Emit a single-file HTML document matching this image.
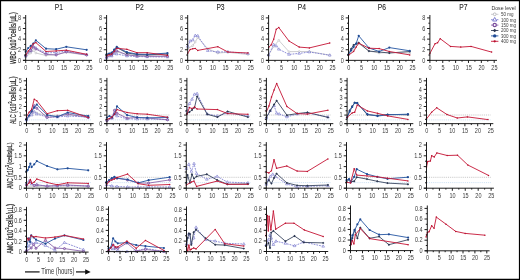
<!DOCTYPE html>
<html><head><meta charset="utf-8"><title>Figure</title>
<style>
html,body{margin:0;padding:0;background:#fff;width:520px;height:280px;overflow:hidden;}
svg{display:block;font-family:"Liberation Sans",sans-serif;will-change:transform;}
</style></head><body>
<svg width="520" height="280" viewBox="0 0 520 280" font-family="Liberation Sans, sans-serif"><rect x="0" y="0" width="520" height="280" fill="#fff"/>
<path d="M25.7 57 L30.78 53 L33.32 50.5 L35.86 53 L46.02 55.5 L56.18 54.5 L66.34 52.5 L86.66 55" stroke="#c4c4c8" stroke-width="0.85" fill="none" stroke-linejoin="round"/>
<circle cx="25.7" cy="57" r="0.9" fill="#fff" stroke="#b8b8bc" stroke-width="0.6"/><circle cx="30.78" cy="53" r="0.9" fill="#fff" stroke="#b8b8bc" stroke-width="0.6"/><circle cx="33.32" cy="50.5" r="0.9" fill="#fff" stroke="#b8b8bc" stroke-width="0.6"/><circle cx="35.86" cy="53" r="0.9" fill="#fff" stroke="#b8b8bc" stroke-width="0.6"/><circle cx="46.02" cy="55.5" r="0.9" fill="#fff" stroke="#b8b8bc" stroke-width="0.6"/><circle cx="56.18" cy="54.5" r="0.9" fill="#fff" stroke="#b8b8bc" stroke-width="0.6"/><circle cx="66.34" cy="52.5" r="0.9" fill="#fff" stroke="#b8b8bc" stroke-width="0.6"/><circle cx="86.66" cy="55" r="0.9" fill="#fff" stroke="#b8b8bc" stroke-width="0.6"/>
<path d="M25.7 56 L30.78 51 L33.32 46.5 L35.86 48 L46.02 53 L56.18 52.5 L66.34 51 L86.66 54.5" stroke="#7a7ad0" stroke-width="0.85" fill="none" stroke-linejoin="round" stroke-dasharray="1.8,1"/>
<path d="M25.7 54.55l1.35 2.3h-2.7z" fill="#fff" stroke="#6a6ac8" stroke-width="0.55"/><path d="M30.78 49.55l1.35 2.3h-2.7z" fill="#fff" stroke="#6a6ac8" stroke-width="0.55"/><path d="M33.32 45.05l1.35 2.3h-2.7z" fill="#fff" stroke="#6a6ac8" stroke-width="0.55"/><path d="M35.86 46.55l1.35 2.3h-2.7z" fill="#fff" stroke="#6a6ac8" stroke-width="0.55"/><path d="M46.02 51.55l1.35 2.3h-2.7z" fill="#fff" stroke="#6a6ac8" stroke-width="0.55"/><path d="M56.18 51.05l1.35 2.3h-2.7z" fill="#fff" stroke="#6a6ac8" stroke-width="0.55"/><path d="M66.34 49.55l1.35 2.3h-2.7z" fill="#fff" stroke="#6a6ac8" stroke-width="0.55"/><path d="M86.66 53.05l1.35 2.3h-2.7z" fill="#fff" stroke="#6a6ac8" stroke-width="0.55"/>
<path d="M25.7 55.5 L30.78 50.5 L33.32 47 L35.86 49 L46.02 54.3 L56.18 55 L66.34 51.8 L86.66 55" stroke="#8c68ac" stroke-width="0.9" fill="none" stroke-linejoin="round"/>
<circle cx="25.7" cy="55.5" r="1.05" fill="#c9b4dc" stroke="#7a4e9c" stroke-width="0.8"/><circle cx="30.78" cy="50.5" r="1.05" fill="#c9b4dc" stroke="#7a4e9c" stroke-width="0.8"/><circle cx="33.32" cy="47" r="1.05" fill="#c9b4dc" stroke="#7a4e9c" stroke-width="0.8"/><circle cx="35.86" cy="49" r="1.05" fill="#c9b4dc" stroke="#7a4e9c" stroke-width="0.8"/><circle cx="46.02" cy="54.3" r="1.05" fill="#c9b4dc" stroke="#7a4e9c" stroke-width="0.8"/><circle cx="56.18" cy="55" r="1.05" fill="#c9b4dc" stroke="#7a4e9c" stroke-width="0.8"/><circle cx="66.34" cy="51.8" r="1.05" fill="#c9b4dc" stroke="#7a4e9c" stroke-width="0.8"/><circle cx="86.66" cy="55" r="1.05" fill="#c9b4dc" stroke="#7a4e9c" stroke-width="0.8"/>
<path d="M25.7 51.8 L28.24 48 L30.78 45.9 L33.32 43.6 L35.86 40.3 L46.02 48.7 L56.18 49.2 L66.34 46.8 L86.66 49.8" stroke="#2f5ea6" stroke-width="0.95" fill="none" stroke-linejoin="round"/>
<circle cx="25.7" cy="51.8" r="1.1" fill="#1f4a94"/><circle cx="28.24" cy="48" r="1.1" fill="#1f4a94"/><circle cx="30.78" cy="45.9" r="1.1" fill="#1f4a94"/><circle cx="33.32" cy="43.6" r="1.1" fill="#1f4a94"/><circle cx="35.86" cy="40.3" r="1.1" fill="#1f4a94"/><circle cx="46.02" cy="48.7" r="1.1" fill="#1f4a94"/><circle cx="56.18" cy="49.2" r="1.1" fill="#1f4a94"/><circle cx="66.34" cy="46.8" r="1.1" fill="#1f4a94"/><circle cx="86.66" cy="49.8" r="1.1" fill="#1f4a94"/>
<path d="M25.7 55 L28.24 51 L30.78 48 L33.32 43.8 L35.86 42.6 L46.02 51.5 L56.18 50.9 L66.34 50.2 L86.66 54.3" stroke="#c8213f" stroke-width="0.95" fill="none" stroke-linejoin="round"/>
<circle cx="25.7" cy="55" r="0.75" fill="#b8102e"/><circle cx="28.24" cy="51" r="0.75" fill="#b8102e"/><circle cx="30.78" cy="48" r="0.75" fill="#b8102e"/><circle cx="33.32" cy="43.8" r="0.75" fill="#b8102e"/><circle cx="35.86" cy="42.6" r="0.75" fill="#b8102e"/><circle cx="46.02" cy="51.5" r="0.75" fill="#b8102e"/><circle cx="56.18" cy="50.9" r="0.75" fill="#b8102e"/><circle cx="66.34" cy="50.2" r="0.75" fill="#b8102e"/><circle cx="86.66" cy="54.3" r="0.75" fill="#b8102e"/>
<path d="M25.7 15V60.85M23.1 60.35H92M22.9 60.35H25.7M22.9 49.74H25.7M22.9 39.12H25.7M22.9 28.51H25.7M22.9 17.9H25.7M24.2 55.04H25.7M24.2 44.43H25.7M24.2 33.82H25.7M24.2 23.21H25.7M25.7 60.35V62.95M38.4 60.35V62.95M51.1 60.35V62.95M63.8 60.35V62.95M76.5 60.35V62.95M89.2 60.35V62.95M32.05 60.35V61.75M44.75 60.35V61.75M57.45 60.35V61.75M70.15 60.35V61.75M82.85 60.35V61.75" stroke="#111" stroke-width="0.95" fill="none"/>
<text transform="translate(21.1,62.55) scale(0.88,1)" font-size="6.3" text-anchor="end" fill="#3a3a3a">0</text>
<text transform="translate(21.1,51.94) scale(0.88,1)" font-size="6.3" text-anchor="end" fill="#3a3a3a">2</text>
<text transform="translate(21.1,41.33) scale(0.88,1)" font-size="6.3" text-anchor="end" fill="#3a3a3a">4</text>
<text transform="translate(21.1,30.71) scale(0.88,1)" font-size="6.3" text-anchor="end" fill="#3a3a3a">6</text>
<text transform="translate(21.1,20.1) scale(0.88,1)" font-size="6.3" text-anchor="end" fill="#3a3a3a">8</text>
<text transform="translate(25.9,69.85) scale(0.86,1)" font-size="6.4" text-anchor="middle" fill="#3a3a3a">0</text>
<text transform="translate(38.6,69.85) scale(0.86,1)" font-size="6.4" text-anchor="middle" fill="#3a3a3a">5</text>
<text transform="translate(51.3,69.85) scale(0.86,1)" font-size="6.4" text-anchor="middle" fill="#3a3a3a">10</text>
<text transform="translate(64,69.85) scale(0.86,1)" font-size="6.4" text-anchor="middle" fill="#3a3a3a">15</text>
<text transform="translate(76.7,69.85) scale(0.86,1)" font-size="6.4" text-anchor="middle" fill="#3a3a3a">20</text>
<text transform="translate(89.4,69.85) scale(0.86,1)" font-size="6.4" text-anchor="middle" fill="#3a3a3a">25</text>
<path d="M106.6 57.5 L111.67 55 L116.74 52 L126.89 54.6 L137.03 55.5 L147.18 55.5 L167.46 56" stroke="#c4c4c8" stroke-width="0.85" fill="none" stroke-linejoin="round"/>
<circle cx="106.6" cy="57.5" r="0.9" fill="#fff" stroke="#b8b8bc" stroke-width="0.6"/><circle cx="111.67" cy="55" r="0.9" fill="#fff" stroke="#b8b8bc" stroke-width="0.6"/><circle cx="116.74" cy="52" r="0.9" fill="#fff" stroke="#b8b8bc" stroke-width="0.6"/><circle cx="126.89" cy="54.6" r="0.9" fill="#fff" stroke="#b8b8bc" stroke-width="0.6"/><circle cx="137.03" cy="55.5" r="0.9" fill="#fff" stroke="#b8b8bc" stroke-width="0.6"/><circle cx="147.18" cy="55.5" r="0.9" fill="#fff" stroke="#b8b8bc" stroke-width="0.6"/><circle cx="167.46" cy="56" r="0.9" fill="#fff" stroke="#b8b8bc" stroke-width="0.6"/>
<path d="M106.6 58 L111.67 56 L114.21 53.5 L116.74 54 L126.89 56 L137.03 56.5 L147.18 56.8 L167.46 57" stroke="#7a7ad0" stroke-width="0.85" fill="none" stroke-linejoin="round" stroke-dasharray="1.8,1"/>
<path d="M106.6 56.55l1.35 2.3h-2.7z" fill="#fff" stroke="#6a6ac8" stroke-width="0.55"/><path d="M111.67 54.55l1.35 2.3h-2.7z" fill="#fff" stroke="#6a6ac8" stroke-width="0.55"/><path d="M114.21 52.05l1.35 2.3h-2.7z" fill="#fff" stroke="#6a6ac8" stroke-width="0.55"/><path d="M116.74 52.55l1.35 2.3h-2.7z" fill="#fff" stroke="#6a6ac8" stroke-width="0.55"/><path d="M126.89 54.55l1.35 2.3h-2.7z" fill="#fff" stroke="#6a6ac8" stroke-width="0.55"/><path d="M137.03 55.05l1.35 2.3h-2.7z" fill="#fff" stroke="#6a6ac8" stroke-width="0.55"/><path d="M147.18 55.35l1.35 2.3h-2.7z" fill="#fff" stroke="#6a6ac8" stroke-width="0.55"/><path d="M167.46 55.55l1.35 2.3h-2.7z" fill="#fff" stroke="#6a6ac8" stroke-width="0.55"/>
<path d="M106.6 57.2 L111.67 55 L114.21 52 L116.74 50.8 L126.89 54.8 L137.03 56 L147.18 56.3 L167.46 56.3" stroke="#8c68ac" stroke-width="0.9" fill="none" stroke-linejoin="round"/>
<circle cx="106.6" cy="57.2" r="1.05" fill="#c9b4dc" stroke="#7a4e9c" stroke-width="0.8"/><circle cx="111.67" cy="55" r="1.05" fill="#c9b4dc" stroke="#7a4e9c" stroke-width="0.8"/><circle cx="114.21" cy="52" r="1.05" fill="#c9b4dc" stroke="#7a4e9c" stroke-width="0.8"/><circle cx="116.74" cy="50.8" r="1.05" fill="#c9b4dc" stroke="#7a4e9c" stroke-width="0.8"/><circle cx="126.89" cy="54.8" r="1.05" fill="#c9b4dc" stroke="#7a4e9c" stroke-width="0.8"/><circle cx="137.03" cy="56" r="1.05" fill="#c9b4dc" stroke="#7a4e9c" stroke-width="0.8"/><circle cx="147.18" cy="56.3" r="1.05" fill="#c9b4dc" stroke="#7a4e9c" stroke-width="0.8"/><circle cx="167.46" cy="56.3" r="1.05" fill="#c9b4dc" stroke="#7a4e9c" stroke-width="0.8"/>
<path d="M106.6 55 L111.67 53.5 L114.21 50 L116.74 47.5 L126.89 53 L137.03 54.5 L147.18 54.8 L167.46 54" stroke="#3a4660" stroke-width="0.9" fill="none" stroke-linejoin="round"/>
<path d="M106.6 53.8l1.2 1.2l-1.2 1.2l-1.2 -1.2z" fill="#2a3550"/><path d="M111.67 52.3l1.2 1.2l-1.2 1.2l-1.2 -1.2z" fill="#2a3550"/><path d="M114.21 48.8l1.2 1.2l-1.2 1.2l-1.2 -1.2z" fill="#2a3550"/><path d="M116.74 46.3l1.2 1.2l-1.2 1.2l-1.2 -1.2z" fill="#2a3550"/><path d="M126.89 51.8l1.2 1.2l-1.2 1.2l-1.2 -1.2z" fill="#2a3550"/><path d="M137.03 53.3l1.2 1.2l-1.2 1.2l-1.2 -1.2z" fill="#2a3550"/><path d="M147.18 53.6l1.2 1.2l-1.2 1.2l-1.2 -1.2z" fill="#2a3550"/><path d="M167.46 52.8l1.2 1.2l-1.2 1.2l-1.2 -1.2z" fill="#2a3550"/>
<path d="M106.6 54.3 L109.14 53.5 L111.67 52.7 L114.21 49.7 L116.74 46.8 L126.89 52.2 L137.03 54.1 L147.18 54.4 L167.46 53.1" stroke="#2f5ea6" stroke-width="0.95" fill="none" stroke-linejoin="round"/>
<circle cx="106.6" cy="54.3" r="1.1" fill="#1f4a94"/><circle cx="109.14" cy="53.5" r="1.1" fill="#1f4a94"/><circle cx="111.67" cy="52.7" r="1.1" fill="#1f4a94"/><circle cx="114.21" cy="49.7" r="1.1" fill="#1f4a94"/><circle cx="116.74" cy="46.8" r="1.1" fill="#1f4a94"/><circle cx="126.89" cy="52.2" r="1.1" fill="#1f4a94"/><circle cx="137.03" cy="54.1" r="1.1" fill="#1f4a94"/><circle cx="147.18" cy="54.4" r="1.1" fill="#1f4a94"/><circle cx="167.46" cy="53.1" r="1.1" fill="#1f4a94"/>
<path d="M106.6 55.7 L109.14 54.8 L111.67 53.9 L114.21 51.2 L116.74 48.3 L126.89 49.3 L137.03 52.7 L147.18 52.7 L167.46 55.4" stroke="#c8213f" stroke-width="0.95" fill="none" stroke-linejoin="round"/>
<circle cx="106.6" cy="55.7" r="0.75" fill="#b8102e"/><circle cx="109.14" cy="54.8" r="0.75" fill="#b8102e"/><circle cx="111.67" cy="53.9" r="0.75" fill="#b8102e"/><circle cx="114.21" cy="51.2" r="0.75" fill="#b8102e"/><circle cx="116.74" cy="48.3" r="0.75" fill="#b8102e"/><circle cx="126.89" cy="49.3" r="0.75" fill="#b8102e"/><circle cx="137.03" cy="52.7" r="0.75" fill="#b8102e"/><circle cx="147.18" cy="52.7" r="0.75" fill="#b8102e"/><circle cx="167.46" cy="55.4" r="0.75" fill="#b8102e"/>
<path d="M106.6 15V60.85M104 60.35H172.8M103.8 60.35H106.6M103.8 49.74H106.6M103.8 39.12H106.6M103.8 28.51H106.6M103.8 17.9H106.6M105.1 55.04H106.6M105.1 44.43H106.6M105.1 33.82H106.6M105.1 23.21H106.6M106.6 60.35V62.95M119.28 60.35V62.95M131.96 60.35V62.95M144.64 60.35V62.95M157.32 60.35V62.95M170 60.35V62.95M112.94 60.35V61.75M125.62 60.35V61.75M138.3 60.35V61.75M150.98 60.35V61.75M163.66 60.35V61.75" stroke="#111" stroke-width="0.95" fill="none"/>
<text transform="translate(102,62.55) scale(0.88,1)" font-size="6.3" text-anchor="end" fill="#3a3a3a">0</text>
<text transform="translate(102,51.94) scale(0.88,1)" font-size="6.3" text-anchor="end" fill="#3a3a3a">2</text>
<text transform="translate(102,41.33) scale(0.88,1)" font-size="6.3" text-anchor="end" fill="#3a3a3a">4</text>
<text transform="translate(102,30.71) scale(0.88,1)" font-size="6.3" text-anchor="end" fill="#3a3a3a">6</text>
<text transform="translate(102,20.1) scale(0.88,1)" font-size="6.3" text-anchor="end" fill="#3a3a3a">8</text>
<text transform="translate(106.8,69.85) scale(0.86,1)" font-size="6.4" text-anchor="middle" fill="#3a3a3a">0</text>
<text transform="translate(119.48,69.85) scale(0.86,1)" font-size="6.4" text-anchor="middle" fill="#3a3a3a">5</text>
<text transform="translate(132.16,69.85) scale(0.86,1)" font-size="6.4" text-anchor="middle" fill="#3a3a3a">10</text>
<text transform="translate(144.84,69.85) scale(0.86,1)" font-size="6.4" text-anchor="middle" fill="#3a3a3a">15</text>
<text transform="translate(157.52,69.85) scale(0.86,1)" font-size="6.4" text-anchor="middle" fill="#3a3a3a">20</text>
<text transform="translate(170.2,69.85) scale(0.86,1)" font-size="6.4" text-anchor="middle" fill="#3a3a3a">25</text>
<path d="M187.7 48.5 L192.72 45.6 L195.24 42 L197.75 37.6 L207.8 48.8 L217.84 53 L227.89 52.3 L247.99 54.5" stroke="#c4c4c8" stroke-width="0.85" fill="none" stroke-linejoin="round"/>
<circle cx="187.7" cy="48.5" r="0.9" fill="#fff" stroke="#b8b8bc" stroke-width="0.6"/><circle cx="192.72" cy="45.6" r="0.9" fill="#fff" stroke="#b8b8bc" stroke-width="0.6"/><circle cx="195.24" cy="42" r="0.9" fill="#fff" stroke="#b8b8bc" stroke-width="0.6"/><circle cx="197.75" cy="37.6" r="0.9" fill="#fff" stroke="#b8b8bc" stroke-width="0.6"/><circle cx="207.8" cy="48.8" r="0.9" fill="#fff" stroke="#b8b8bc" stroke-width="0.6"/><circle cx="217.84" cy="53" r="0.9" fill="#fff" stroke="#b8b8bc" stroke-width="0.6"/><circle cx="227.89" cy="52.3" r="0.9" fill="#fff" stroke="#b8b8bc" stroke-width="0.6"/><circle cx="247.99" cy="54.5" r="0.9" fill="#fff" stroke="#b8b8bc" stroke-width="0.6"/>
<path d="M187.7 46.3 L190.21 41 L192.72 40 L195.24 35.5 L197.75 35.8 L207.8 50.6 L217.84 52 L227.89 51.8 L247.99 53.5" stroke="#7a7ad0" stroke-width="0.85" fill="none" stroke-linejoin="round" stroke-dasharray="1.8,1"/>
<path d="M187.7 44.85l1.35 2.3h-2.7z" fill="#fff" stroke="#6a6ac8" stroke-width="0.55"/><path d="M190.21 39.55l1.35 2.3h-2.7z" fill="#fff" stroke="#6a6ac8" stroke-width="0.55"/><path d="M192.72 38.55l1.35 2.3h-2.7z" fill="#fff" stroke="#6a6ac8" stroke-width="0.55"/><path d="M195.24 34.05l1.35 2.3h-2.7z" fill="#fff" stroke="#6a6ac8" stroke-width="0.55"/><path d="M197.75 34.35l1.35 2.3h-2.7z" fill="#fff" stroke="#6a6ac8" stroke-width="0.55"/><path d="M207.8 49.15l1.35 2.3h-2.7z" fill="#fff" stroke="#6a6ac8" stroke-width="0.55"/><path d="M217.84 50.55l1.35 2.3h-2.7z" fill="#fff" stroke="#6a6ac8" stroke-width="0.55"/><path d="M227.89 50.35l1.35 2.3h-2.7z" fill="#fff" stroke="#6a6ac8" stroke-width="0.55"/><path d="M247.99 52.05l1.35 2.3h-2.7z" fill="#fff" stroke="#6a6ac8" stroke-width="0.55"/>
<path d="M187.7 53.2 L190.21 49.5 L192.72 48.8 L195.24 48.4 L197.75 50.4 L217.84 46.7 L227.89 52 L247.99 53" stroke="#c8213f" stroke-width="0.95" fill="none" stroke-linejoin="round"/>
<circle cx="187.7" cy="53.2" r="0.75" fill="#b8102e"/><circle cx="190.21" cy="49.5" r="0.75" fill="#b8102e"/><circle cx="192.72" cy="48.8" r="0.75" fill="#b8102e"/><circle cx="195.24" cy="48.4" r="0.75" fill="#b8102e"/><circle cx="197.75" cy="50.4" r="0.75" fill="#b8102e"/><circle cx="217.84" cy="46.7" r="0.75" fill="#b8102e"/><circle cx="227.89" cy="52" r="0.75" fill="#b8102e"/><circle cx="247.99" cy="53" r="0.75" fill="#b8102e"/>
<path d="M187.7 15V60.85M185.1 60.35H253.3M184.9 60.35H187.7M184.9 49.74H187.7M184.9 39.12H187.7M184.9 28.51H187.7M184.9 17.9H187.7M186.2 55.04H187.7M186.2 44.43H187.7M186.2 33.82H187.7M186.2 23.21H187.7M187.7 60.35V62.95M200.26 60.35V62.95M212.82 60.35V62.95M225.38 60.35V62.95M237.94 60.35V62.95M250.5 60.35V62.95M193.98 60.35V61.75M206.54 60.35V61.75M219.1 60.35V61.75M231.66 60.35V61.75M244.22 60.35V61.75" stroke="#111" stroke-width="0.95" fill="none"/>
<text transform="translate(183.1,62.55) scale(0.88,1)" font-size="6.3" text-anchor="end" fill="#3a3a3a">0</text>
<text transform="translate(183.1,51.94) scale(0.88,1)" font-size="6.3" text-anchor="end" fill="#3a3a3a">2</text>
<text transform="translate(183.1,41.33) scale(0.88,1)" font-size="6.3" text-anchor="end" fill="#3a3a3a">4</text>
<text transform="translate(183.1,30.71) scale(0.88,1)" font-size="6.3" text-anchor="end" fill="#3a3a3a">6</text>
<text transform="translate(183.1,20.1) scale(0.88,1)" font-size="6.3" text-anchor="end" fill="#3a3a3a">8</text>
<text transform="translate(187.9,69.85) scale(0.86,1)" font-size="6.4" text-anchor="middle" fill="#3a3a3a">0</text>
<text transform="translate(200.46,69.85) scale(0.86,1)" font-size="6.4" text-anchor="middle" fill="#3a3a3a">5</text>
<text transform="translate(213.02,69.85) scale(0.86,1)" font-size="6.4" text-anchor="middle" fill="#3a3a3a">10</text>
<text transform="translate(225.58,69.85) scale(0.86,1)" font-size="6.4" text-anchor="middle" fill="#3a3a3a">15</text>
<text transform="translate(238.14,69.85) scale(0.86,1)" font-size="6.4" text-anchor="middle" fill="#3a3a3a">20</text>
<text transform="translate(250.7,69.85) scale(0.86,1)" font-size="6.4" text-anchor="middle" fill="#3a3a3a">25</text>
<path d="M268.6 55 L273.7 46.5 L278.79 40.3 L288.98 51.7 L299.18 51.5 L309.37 51.5 L329.75 55.2" stroke="#c4c4c8" stroke-width="0.85" fill="none" stroke-linejoin="round"/>
<circle cx="268.6" cy="55" r="0.9" fill="#fff" stroke="#b8b8bc" stroke-width="0.6"/><circle cx="273.7" cy="46.5" r="0.9" fill="#fff" stroke="#b8b8bc" stroke-width="0.6"/><circle cx="278.79" cy="40.3" r="0.9" fill="#fff" stroke="#b8b8bc" stroke-width="0.6"/><circle cx="288.98" cy="51.7" r="0.9" fill="#fff" stroke="#b8b8bc" stroke-width="0.6"/><circle cx="299.18" cy="51.5" r="0.9" fill="#fff" stroke="#b8b8bc" stroke-width="0.6"/><circle cx="309.37" cy="51.5" r="0.9" fill="#fff" stroke="#b8b8bc" stroke-width="0.6"/><circle cx="329.75" cy="55.2" r="0.9" fill="#fff" stroke="#b8b8bc" stroke-width="0.6"/>
<path d="M268.6 55 L273.7 44.6 L276.24 46 L278.79 49.2 L288.98 54.4 L299.18 53.4 L309.37 52 L329.75 55.2" stroke="#7a7ad0" stroke-width="0.85" fill="none" stroke-linejoin="round" stroke-dasharray="1.8,1"/>
<path d="M268.6 53.55l1.35 2.3h-2.7z" fill="#fff" stroke="#6a6ac8" stroke-width="0.55"/><path d="M273.7 43.15l1.35 2.3h-2.7z" fill="#fff" stroke="#6a6ac8" stroke-width="0.55"/><path d="M276.24 44.55l1.35 2.3h-2.7z" fill="#fff" stroke="#6a6ac8" stroke-width="0.55"/><path d="M278.79 47.75l1.35 2.3h-2.7z" fill="#fff" stroke="#6a6ac8" stroke-width="0.55"/><path d="M288.98 52.95l1.35 2.3h-2.7z" fill="#fff" stroke="#6a6ac8" stroke-width="0.55"/><path d="M299.18 51.95l1.35 2.3h-2.7z" fill="#fff" stroke="#6a6ac8" stroke-width="0.55"/><path d="M309.37 50.55l1.35 2.3h-2.7z" fill="#fff" stroke="#6a6ac8" stroke-width="0.55"/><path d="M329.75 53.75l1.35 2.3h-2.7z" fill="#fff" stroke="#6a6ac8" stroke-width="0.55"/>
<path d="M268.6 47.5 L271.15 45 L273.7 39.2 L276.24 29.3 L278.79 27.5 L288.98 41 L299.18 47.1 L309.37 47.9 L329.75 43" stroke="#c8213f" stroke-width="0.95" fill="none" stroke-linejoin="round"/>
<circle cx="268.6" cy="47.5" r="0.75" fill="#b8102e"/><circle cx="271.15" cy="45" r="0.75" fill="#b8102e"/><circle cx="273.7" cy="39.2" r="0.75" fill="#b8102e"/><circle cx="276.24" cy="29.3" r="0.75" fill="#b8102e"/><circle cx="278.79" cy="27.5" r="0.75" fill="#b8102e"/><circle cx="288.98" cy="41" r="0.75" fill="#b8102e"/><circle cx="299.18" cy="47.1" r="0.75" fill="#b8102e"/><circle cx="309.37" cy="47.9" r="0.75" fill="#b8102e"/><circle cx="329.75" cy="43" r="0.75" fill="#b8102e"/>
<path d="M268.6 15V60.85M266 60.35H335.1M265.8 60.35H268.6M265.8 49.74H268.6M265.8 39.12H268.6M265.8 28.51H268.6M265.8 17.9H268.6M267.1 55.04H268.6M267.1 44.43H268.6M267.1 33.82H268.6M267.1 23.21H268.6M268.6 60.35V62.95M281.34 60.35V62.95M294.08 60.35V62.95M306.82 60.35V62.95M319.56 60.35V62.95M332.3 60.35V62.95M274.97 60.35V61.75M287.71 60.35V61.75M300.45 60.35V61.75M313.19 60.35V61.75M325.93 60.35V61.75" stroke="#111" stroke-width="0.95" fill="none"/>
<text transform="translate(264,62.55) scale(0.88,1)" font-size="6.3" text-anchor="end" fill="#3a3a3a">0</text>
<text transform="translate(264,51.94) scale(0.88,1)" font-size="6.3" text-anchor="end" fill="#3a3a3a">2</text>
<text transform="translate(264,41.33) scale(0.88,1)" font-size="6.3" text-anchor="end" fill="#3a3a3a">4</text>
<text transform="translate(264,30.71) scale(0.88,1)" font-size="6.3" text-anchor="end" fill="#3a3a3a">6</text>
<text transform="translate(264,20.1) scale(0.88,1)" font-size="6.3" text-anchor="end" fill="#3a3a3a">8</text>
<text transform="translate(268.8,69.85) scale(0.86,1)" font-size="6.4" text-anchor="middle" fill="#3a3a3a">0</text>
<text transform="translate(281.54,69.85) scale(0.86,1)" font-size="6.4" text-anchor="middle" fill="#3a3a3a">5</text>
<text transform="translate(294.28,69.85) scale(0.86,1)" font-size="6.4" text-anchor="middle" fill="#3a3a3a">10</text>
<text transform="translate(307.02,69.85) scale(0.86,1)" font-size="6.4" text-anchor="middle" fill="#3a3a3a">15</text>
<text transform="translate(319.76,69.85) scale(0.86,1)" font-size="6.4" text-anchor="middle" fill="#3a3a3a">20</text>
<text transform="translate(332.5,69.85) scale(0.86,1)" font-size="6.4" text-anchor="middle" fill="#3a3a3a">25</text>
<path d="M348.5 55 L353.6 50 L358.71 43.5 L368.92 51 L379.12 53 L389.33 52.5 L409.75 53" stroke="#c4c4c8" stroke-width="0.85" fill="none" stroke-linejoin="round"/>
<circle cx="348.5" cy="55" r="0.9" fill="#fff" stroke="#b8b8bc" stroke-width="0.6"/><circle cx="353.6" cy="50" r="0.9" fill="#fff" stroke="#b8b8bc" stroke-width="0.6"/><circle cx="358.71" cy="43.5" r="0.9" fill="#fff" stroke="#b8b8bc" stroke-width="0.6"/><circle cx="368.92" cy="51" r="0.9" fill="#fff" stroke="#b8b8bc" stroke-width="0.6"/><circle cx="379.12" cy="53" r="0.9" fill="#fff" stroke="#b8b8bc" stroke-width="0.6"/><circle cx="389.33" cy="52.5" r="0.9" fill="#fff" stroke="#b8b8bc" stroke-width="0.6"/><circle cx="409.75" cy="53" r="0.9" fill="#fff" stroke="#b8b8bc" stroke-width="0.6"/>
<path d="M348.5 54.5 L351.05 49 L353.6 44.9 L356.16 43.8 L358.71 42.7 L368.92 51.1 L379.12 52 L389.33 53 L409.75 51.5" stroke="#3a4660" stroke-width="0.9" fill="none" stroke-linejoin="round"/>
<path d="M348.5 53.3l1.2 1.2l-1.2 1.2l-1.2 -1.2z" fill="#2a3550"/><path d="M351.05 47.8l1.2 1.2l-1.2 1.2l-1.2 -1.2z" fill="#2a3550"/><path d="M353.6 43.7l1.2 1.2l-1.2 1.2l-1.2 -1.2z" fill="#2a3550"/><path d="M356.16 42.6l1.2 1.2l-1.2 1.2l-1.2 -1.2z" fill="#2a3550"/><path d="M358.71 41.5l1.2 1.2l-1.2 1.2l-1.2 -1.2z" fill="#2a3550"/><path d="M368.92 49.9l1.2 1.2l-1.2 1.2l-1.2 -1.2z" fill="#2a3550"/><path d="M379.12 50.8l1.2 1.2l-1.2 1.2l-1.2 -1.2z" fill="#2a3550"/><path d="M389.33 51.8l1.2 1.2l-1.2 1.2l-1.2 -1.2z" fill="#2a3550"/><path d="M409.75 50.3l1.2 1.2l-1.2 1.2l-1.2 -1.2z" fill="#2a3550"/>
<path d="M348.5 54.5 L351.05 50.5 L353.6 47.1 L356.16 43.5 L358.71 35.8 L368.92 47.9 L379.12 51.5 L389.33 47.6 L409.75 50.8" stroke="#2f5ea6" stroke-width="0.95" fill="none" stroke-linejoin="round"/>
<circle cx="348.5" cy="54.5" r="1.1" fill="#1f4a94"/><circle cx="351.05" cy="50.5" r="1.1" fill="#1f4a94"/><circle cx="353.6" cy="47.1" r="1.1" fill="#1f4a94"/><circle cx="356.16" cy="43.5" r="1.1" fill="#1f4a94"/><circle cx="358.71" cy="35.8" r="1.1" fill="#1f4a94"/><circle cx="368.92" cy="47.9" r="1.1" fill="#1f4a94"/><circle cx="379.12" cy="51.5" r="1.1" fill="#1f4a94"/><circle cx="389.33" cy="47.6" r="1.1" fill="#1f4a94"/><circle cx="409.75" cy="50.8" r="1.1" fill="#1f4a94"/>
<path d="M348.5 55.2 L353.6 51.5 L356.16 47 L358.71 43.2 L368.92 48.2 L379.12 48.6 L389.33 51.5 L409.75 54.9" stroke="#c8213f" stroke-width="0.95" fill="none" stroke-linejoin="round"/>
<circle cx="348.5" cy="55.2" r="0.75" fill="#b8102e"/><circle cx="353.6" cy="51.5" r="0.75" fill="#b8102e"/><circle cx="356.16" cy="47" r="0.75" fill="#b8102e"/><circle cx="358.71" cy="43.2" r="0.75" fill="#b8102e"/><circle cx="368.92" cy="48.2" r="0.75" fill="#b8102e"/><circle cx="379.12" cy="48.6" r="0.75" fill="#b8102e"/><circle cx="389.33" cy="51.5" r="0.75" fill="#b8102e"/><circle cx="409.75" cy="54.9" r="0.75" fill="#b8102e"/>
<path d="M348.5 15V60.85M345.9 60.35H415.1M345.7 60.35H348.5M345.7 49.74H348.5M345.7 39.12H348.5M345.7 28.51H348.5M345.7 17.9H348.5M347 55.04H348.5M347 44.43H348.5M347 33.82H348.5M347 23.21H348.5M348.5 60.35V62.95M361.26 60.35V62.95M374.02 60.35V62.95M386.78 60.35V62.95M399.54 60.35V62.95M412.3 60.35V62.95M354.88 60.35V61.75M367.64 60.35V61.75M380.4 60.35V61.75M393.16 60.35V61.75M405.92 60.35V61.75" stroke="#111" stroke-width="0.95" fill="none"/>
<text transform="translate(343.9,62.55) scale(0.88,1)" font-size="6.3" text-anchor="end" fill="#3a3a3a">0</text>
<text transform="translate(343.9,51.94) scale(0.88,1)" font-size="6.3" text-anchor="end" fill="#3a3a3a">2</text>
<text transform="translate(343.9,41.33) scale(0.88,1)" font-size="6.3" text-anchor="end" fill="#3a3a3a">4</text>
<text transform="translate(343.9,30.71) scale(0.88,1)" font-size="6.3" text-anchor="end" fill="#3a3a3a">6</text>
<text transform="translate(343.9,20.1) scale(0.88,1)" font-size="6.3" text-anchor="end" fill="#3a3a3a">8</text>
<text transform="translate(348.7,69.85) scale(0.86,1)" font-size="6.4" text-anchor="middle" fill="#3a3a3a">0</text>
<text transform="translate(361.46,69.85) scale(0.86,1)" font-size="6.4" text-anchor="middle" fill="#3a3a3a">5</text>
<text transform="translate(374.22,69.85) scale(0.86,1)" font-size="6.4" text-anchor="middle" fill="#3a3a3a">10</text>
<text transform="translate(386.98,69.85) scale(0.86,1)" font-size="6.4" text-anchor="middle" fill="#3a3a3a">15</text>
<text transform="translate(399.74,69.85) scale(0.86,1)" font-size="6.4" text-anchor="middle" fill="#3a3a3a">20</text>
<text transform="translate(412.5,69.85) scale(0.86,1)" font-size="6.4" text-anchor="middle" fill="#3a3a3a">25</text>
<path d="M429.9 53.4 L435.04 43.7 L437.62 42.7 L440.19 38.7 L450.48 46.4 L460.76 47.1 L471.05 46.4 L491.63 52.1" stroke="#c8213f" stroke-width="0.95" fill="none" stroke-linejoin="round"/>
<circle cx="429.9" cy="53.4" r="0.75" fill="#b8102e"/><circle cx="435.04" cy="43.7" r="0.75" fill="#b8102e"/><circle cx="437.62" cy="42.7" r="0.75" fill="#b8102e"/><circle cx="440.19" cy="38.7" r="0.75" fill="#b8102e"/><circle cx="450.48" cy="46.4" r="0.75" fill="#b8102e"/><circle cx="460.76" cy="47.1" r="0.75" fill="#b8102e"/><circle cx="471.05" cy="46.4" r="0.75" fill="#b8102e"/><circle cx="491.63" cy="52.1" r="0.75" fill="#b8102e"/>
<path d="M429.9 15V60.85M427.3 60.35H497M427.1 60.35H429.9M427.1 49.74H429.9M427.1 39.12H429.9M427.1 28.51H429.9M427.1 17.9H429.9M428.4 55.04H429.9M428.4 44.43H429.9M428.4 33.82H429.9M428.4 23.21H429.9M429.9 60.35V62.95M442.76 60.35V62.95M455.62 60.35V62.95M468.48 60.35V62.95M481.34 60.35V62.95M494.2 60.35V62.95M436.33 60.35V61.75M449.19 60.35V61.75M462.05 60.35V61.75M474.91 60.35V61.75M487.77 60.35V61.75" stroke="#111" stroke-width="0.95" fill="none"/>
<text transform="translate(425.3,62.55) scale(0.88,1)" font-size="6.3" text-anchor="end" fill="#3a3a3a">0</text>
<text transform="translate(425.3,51.94) scale(0.88,1)" font-size="6.3" text-anchor="end" fill="#3a3a3a">2</text>
<text transform="translate(425.3,41.33) scale(0.88,1)" font-size="6.3" text-anchor="end" fill="#3a3a3a">4</text>
<text transform="translate(425.3,30.71) scale(0.88,1)" font-size="6.3" text-anchor="end" fill="#3a3a3a">6</text>
<text transform="translate(425.3,20.1) scale(0.88,1)" font-size="6.3" text-anchor="end" fill="#3a3a3a">8</text>
<text transform="translate(430.1,69.85) scale(0.86,1)" font-size="6.4" text-anchor="middle" fill="#3a3a3a">0</text>
<text transform="translate(442.96,69.85) scale(0.86,1)" font-size="6.4" text-anchor="middle" fill="#3a3a3a">5</text>
<text transform="translate(455.82,69.85) scale(0.86,1)" font-size="6.4" text-anchor="middle" fill="#3a3a3a">10</text>
<text transform="translate(468.68,69.85) scale(0.86,1)" font-size="6.4" text-anchor="middle" fill="#3a3a3a">15</text>
<text transform="translate(481.54,69.85) scale(0.86,1)" font-size="6.4" text-anchor="middle" fill="#3a3a3a">20</text>
<text transform="translate(494.4,69.85) scale(0.86,1)" font-size="6.4" text-anchor="middle" fill="#3a3a3a">25</text>
<path d="M27.1 115H90.8" stroke="#b0b0b0" stroke-width="0.7" stroke-dasharray="1,0.9" fill="none"/>
<path d="M27.1 119.9H90.8" stroke="#b8d4ee" stroke-width="0.7" stroke-dasharray="1,0.9" fill="none"/>
<path d="M26.5 119 L31.64 114 L34.22 111.4 L36.79 113 L47.08 115.5 L57.36 115.5 L67.65 115 L88.23 116" stroke="#c4c4c8" stroke-width="0.85" fill="none" stroke-linejoin="round"/>
<circle cx="26.5" cy="119" r="0.9" fill="#fff" stroke="#b8b8bc" stroke-width="0.6"/><circle cx="31.64" cy="114" r="0.9" fill="#fff" stroke="#b8b8bc" stroke-width="0.6"/><circle cx="34.22" cy="111.4" r="0.9" fill="#fff" stroke="#b8b8bc" stroke-width="0.6"/><circle cx="36.79" cy="113" r="0.9" fill="#fff" stroke="#b8b8bc" stroke-width="0.6"/><circle cx="47.08" cy="115.5" r="0.9" fill="#fff" stroke="#b8b8bc" stroke-width="0.6"/><circle cx="57.36" cy="115.5" r="0.9" fill="#fff" stroke="#b8b8bc" stroke-width="0.6"/><circle cx="67.65" cy="115" r="0.9" fill="#fff" stroke="#b8b8bc" stroke-width="0.6"/><circle cx="88.23" cy="116" r="0.9" fill="#fff" stroke="#b8b8bc" stroke-width="0.6"/>
<path d="M26.5 120 L31.64 115 L34.22 112 L36.79 114 L47.08 117 L57.36 117 L67.65 116 L88.23 117" stroke="#7a7ad0" stroke-width="0.85" fill="none" stroke-linejoin="round" stroke-dasharray="1.8,1"/>
<path d="M26.5 118.55l1.35 2.3h-2.7z" fill="#fff" stroke="#6a6ac8" stroke-width="0.55"/><path d="M31.64 113.55l1.35 2.3h-2.7z" fill="#fff" stroke="#6a6ac8" stroke-width="0.55"/><path d="M34.22 110.55l1.35 2.3h-2.7z" fill="#fff" stroke="#6a6ac8" stroke-width="0.55"/><path d="M36.79 112.55l1.35 2.3h-2.7z" fill="#fff" stroke="#6a6ac8" stroke-width="0.55"/><path d="M47.08 115.55l1.35 2.3h-2.7z" fill="#fff" stroke="#6a6ac8" stroke-width="0.55"/><path d="M57.36 115.55l1.35 2.3h-2.7z" fill="#fff" stroke="#6a6ac8" stroke-width="0.55"/><path d="M67.65 114.55l1.35 2.3h-2.7z" fill="#fff" stroke="#6a6ac8" stroke-width="0.55"/><path d="M88.23 115.55l1.35 2.3h-2.7z" fill="#fff" stroke="#6a6ac8" stroke-width="0.55"/>
<path d="M26.5 119 L31.64 111.5 L34.22 105.7 L36.79 108.3 L47.08 117.4 L57.36 116.5 L67.65 114 L88.23 117.5" stroke="#8c68ac" stroke-width="0.9" fill="none" stroke-linejoin="round"/>
<circle cx="26.5" cy="119" r="1.05" fill="#c9b4dc" stroke="#7a4e9c" stroke-width="0.8"/><circle cx="31.64" cy="111.5" r="1.05" fill="#c9b4dc" stroke="#7a4e9c" stroke-width="0.8"/><circle cx="34.22" cy="105.7" r="1.05" fill="#c9b4dc" stroke="#7a4e9c" stroke-width="0.8"/><circle cx="36.79" cy="108.3" r="1.05" fill="#c9b4dc" stroke="#7a4e9c" stroke-width="0.8"/><circle cx="47.08" cy="117.4" r="1.05" fill="#c9b4dc" stroke="#7a4e9c" stroke-width="0.8"/><circle cx="57.36" cy="116.5" r="1.05" fill="#c9b4dc" stroke="#7a4e9c" stroke-width="0.8"/><circle cx="67.65" cy="114" r="1.05" fill="#c9b4dc" stroke="#7a4e9c" stroke-width="0.8"/><circle cx="88.23" cy="117.5" r="1.05" fill="#c9b4dc" stroke="#7a4e9c" stroke-width="0.8"/>
<path d="M26.5 119.7 L29.07 115.6 L31.64 111.3 L34.22 107.7 L36.79 104.5 L47.08 114.9 L57.36 116.8 L67.65 112.5 L88.23 116.1" stroke="#2f5ea6" stroke-width="0.95" fill="none" stroke-linejoin="round"/>
<circle cx="26.5" cy="119.7" r="1.1" fill="#1f4a94"/><circle cx="29.07" cy="115.6" r="1.1" fill="#1f4a94"/><circle cx="31.64" cy="111.3" r="1.1" fill="#1f4a94"/><circle cx="34.22" cy="107.7" r="1.1" fill="#1f4a94"/><circle cx="36.79" cy="104.5" r="1.1" fill="#1f4a94"/><circle cx="47.08" cy="114.9" r="1.1" fill="#1f4a94"/><circle cx="57.36" cy="116.8" r="1.1" fill="#1f4a94"/><circle cx="67.65" cy="112.5" r="1.1" fill="#1f4a94"/><circle cx="88.23" cy="116.1" r="1.1" fill="#1f4a94"/>
<path d="M26.5 116.7 L29.07 112.3 L31.64 109.3 L34.22 99.2 L36.79 100.8 L47.08 113.7 L57.36 110.7 L67.65 110.3 L88.23 117.5" stroke="#c8213f" stroke-width="0.95" fill="none" stroke-linejoin="round"/>
<circle cx="26.5" cy="116.7" r="0.75" fill="#b8102e"/><circle cx="29.07" cy="112.3" r="0.75" fill="#b8102e"/><circle cx="31.64" cy="109.3" r="0.75" fill="#b8102e"/><circle cx="34.22" cy="99.2" r="0.75" fill="#b8102e"/><circle cx="36.79" cy="100.8" r="0.75" fill="#b8102e"/><circle cx="47.08" cy="113.7" r="0.75" fill="#b8102e"/><circle cx="57.36" cy="110.7" r="0.75" fill="#b8102e"/><circle cx="67.65" cy="110.3" r="0.75" fill="#b8102e"/><circle cx="88.23" cy="117.5" r="0.75" fill="#b8102e"/>
<path d="M26.5 77.9V124.15M23.9 123.65H93.6M23.7 123.65H26.5M23.7 115.08H26.5M23.7 106.51H26.5M23.7 97.94H26.5M23.7 89.37H26.5M23.7 80.8H26.5M25 119.37H26.5M25 110.8H26.5M25 102.22H26.5M25 93.66H26.5M25 85.08H26.5M26.5 123.65V126.25M39.36 123.65V126.25M52.22 123.65V126.25M65.08 123.65V126.25M77.94 123.65V126.25M90.8 123.65V126.25M32.93 123.65V125.05M45.79 123.65V125.05M58.65 123.65V125.05M71.51 123.65V125.05M84.37 123.65V125.05" stroke="#111" stroke-width="0.95" fill="none"/>
<text transform="translate(21.9,125.85) scale(0.88,1)" font-size="6.3" text-anchor="end" fill="#3a3a3a">0</text>
<text transform="translate(21.9,117.28) scale(0.88,1)" font-size="6.3" text-anchor="end" fill="#3a3a3a">1</text>
<text transform="translate(21.9,108.71) scale(0.88,1)" font-size="6.3" text-anchor="end" fill="#3a3a3a">2</text>
<text transform="translate(21.9,100.14) scale(0.88,1)" font-size="6.3" text-anchor="end" fill="#3a3a3a">3</text>
<text transform="translate(21.9,91.57) scale(0.88,1)" font-size="6.3" text-anchor="end" fill="#3a3a3a">4</text>
<text transform="translate(21.9,83) scale(0.88,1)" font-size="6.3" text-anchor="end" fill="#3a3a3a">5</text>
<text transform="translate(26.7,133.15) scale(0.86,1)" font-size="6.4" text-anchor="middle" fill="#3a3a3a">0</text>
<text transform="translate(39.56,133.15) scale(0.86,1)" font-size="6.4" text-anchor="middle" fill="#3a3a3a">5</text>
<text transform="translate(52.42,133.15) scale(0.86,1)" font-size="6.4" text-anchor="middle" fill="#3a3a3a">10</text>
<text transform="translate(65.28,133.15) scale(0.86,1)" font-size="6.4" text-anchor="middle" fill="#3a3a3a">15</text>
<text transform="translate(78.14,133.15) scale(0.86,1)" font-size="6.4" text-anchor="middle" fill="#3a3a3a">20</text>
<text transform="translate(91,133.15) scale(0.86,1)" font-size="6.4" text-anchor="middle" fill="#3a3a3a">25</text>
<path d="M107.5 115H170" stroke="#b0b0b0" stroke-width="0.7" stroke-dasharray="1,0.9" fill="none"/>
<path d="M107.5 119.9H170" stroke="#b8d4ee" stroke-width="0.7" stroke-dasharray="1,0.9" fill="none"/>
<path d="M106.9 120 L111.95 118 L114.47 114 L117 116 L127.09 118.8 L137.19 119 L147.28 119 L167.48 119.5" stroke="#7a7ad0" stroke-width="0.85" fill="none" stroke-linejoin="round" stroke-dasharray="1.8,1"/>
<path d="M106.9 118.55l1.35 2.3h-2.7z" fill="#fff" stroke="#6a6ac8" stroke-width="0.55"/><path d="M111.95 116.55l1.35 2.3h-2.7z" fill="#fff" stroke="#6a6ac8" stroke-width="0.55"/><path d="M114.47 112.55l1.35 2.3h-2.7z" fill="#fff" stroke="#6a6ac8" stroke-width="0.55"/><path d="M117 114.55l1.35 2.3h-2.7z" fill="#fff" stroke="#6a6ac8" stroke-width="0.55"/><path d="M127.09 117.35l1.35 2.3h-2.7z" fill="#fff" stroke="#6a6ac8" stroke-width="0.55"/><path d="M137.19 117.55l1.35 2.3h-2.7z" fill="#fff" stroke="#6a6ac8" stroke-width="0.55"/><path d="M147.28 117.55l1.35 2.3h-2.7z" fill="#fff" stroke="#6a6ac8" stroke-width="0.55"/><path d="M167.48 118.05l1.35 2.3h-2.7z" fill="#fff" stroke="#6a6ac8" stroke-width="0.55"/>
<path d="M106.9 120.7 L111.95 118 L114.47 110.3 L117 113.3 L127.09 118.1 L137.19 117.5 L147.28 118 L167.48 119.8" stroke="#8c68ac" stroke-width="0.9" fill="none" stroke-linejoin="round"/>
<circle cx="106.9" cy="120.7" r="1.05" fill="#c9b4dc" stroke="#7a4e9c" stroke-width="0.8"/><circle cx="111.95" cy="118" r="1.05" fill="#c9b4dc" stroke="#7a4e9c" stroke-width="0.8"/><circle cx="114.47" cy="110.3" r="1.05" fill="#c9b4dc" stroke="#7a4e9c" stroke-width="0.8"/><circle cx="117" cy="113.3" r="1.05" fill="#c9b4dc" stroke="#7a4e9c" stroke-width="0.8"/><circle cx="127.09" cy="118.1" r="1.05" fill="#c9b4dc" stroke="#7a4e9c" stroke-width="0.8"/><circle cx="137.19" cy="117.5" r="1.05" fill="#c9b4dc" stroke="#7a4e9c" stroke-width="0.8"/><circle cx="147.28" cy="118" r="1.05" fill="#c9b4dc" stroke="#7a4e9c" stroke-width="0.8"/><circle cx="167.48" cy="119.8" r="1.05" fill="#c9b4dc" stroke="#7a4e9c" stroke-width="0.8"/>
<path d="M106.9 117.5 L109.42 116 L111.95 117.5 L114.47 114.2 L117 106.3 L127.09 115.1 L137.19 117.5 L147.28 117.8 L167.48 117.5" stroke="#2f5ea6" stroke-width="0.95" fill="none" stroke-linejoin="round"/>
<circle cx="106.9" cy="117.5" r="1.1" fill="#1f4a94"/><circle cx="109.42" cy="116" r="1.1" fill="#1f4a94"/><circle cx="111.95" cy="117.5" r="1.1" fill="#1f4a94"/><circle cx="114.47" cy="114.2" r="1.1" fill="#1f4a94"/><circle cx="117" cy="106.3" r="1.1" fill="#1f4a94"/><circle cx="127.09" cy="115.1" r="1.1" fill="#1f4a94"/><circle cx="137.19" cy="117.5" r="1.1" fill="#1f4a94"/><circle cx="147.28" cy="117.8" r="1.1" fill="#1f4a94"/><circle cx="167.48" cy="117.5" r="1.1" fill="#1f4a94"/>
<path d="M106.9 119.4 L109.42 118.5 L111.95 117 L114.47 114.2 L117 109.6 L127.09 112.5 L137.19 113.8 L147.28 114.2 L167.48 117.2" stroke="#c8213f" stroke-width="0.95" fill="none" stroke-linejoin="round"/>
<circle cx="106.9" cy="119.4" r="0.75" fill="#b8102e"/><circle cx="109.42" cy="118.5" r="0.75" fill="#b8102e"/><circle cx="111.95" cy="117" r="0.75" fill="#b8102e"/><circle cx="114.47" cy="114.2" r="0.75" fill="#b8102e"/><circle cx="117" cy="109.6" r="0.75" fill="#b8102e"/><circle cx="127.09" cy="112.5" r="0.75" fill="#b8102e"/><circle cx="137.19" cy="113.8" r="0.75" fill="#b8102e"/><circle cx="147.28" cy="114.2" r="0.75" fill="#b8102e"/><circle cx="167.48" cy="117.2" r="0.75" fill="#b8102e"/>
<path d="M106.9 77.9V124.15M104.3 123.65H172.8M104.1 123.65H106.9M104.1 115.08H106.9M104.1 106.51H106.9M104.1 97.94H106.9M104.1 89.37H106.9M104.1 80.8H106.9M105.4 119.37H106.9M105.4 110.8H106.9M105.4 102.22H106.9M105.4 93.66H106.9M105.4 85.08H106.9M106.9 123.65V126.25M119.52 123.65V126.25M132.14 123.65V126.25M144.76 123.65V126.25M157.38 123.65V126.25M170 123.65V126.25M113.21 123.65V125.05M125.83 123.65V125.05M138.45 123.65V125.05M151.07 123.65V125.05M163.69 123.65V125.05" stroke="#111" stroke-width="0.95" fill="none"/>
<text transform="translate(102.3,125.85) scale(0.88,1)" font-size="6.3" text-anchor="end" fill="#3a3a3a">0</text>
<text transform="translate(102.3,117.28) scale(0.88,1)" font-size="6.3" text-anchor="end" fill="#3a3a3a">1</text>
<text transform="translate(102.3,108.71) scale(0.88,1)" font-size="6.3" text-anchor="end" fill="#3a3a3a">2</text>
<text transform="translate(102.3,100.14) scale(0.88,1)" font-size="6.3" text-anchor="end" fill="#3a3a3a">3</text>
<text transform="translate(102.3,91.57) scale(0.88,1)" font-size="6.3" text-anchor="end" fill="#3a3a3a">4</text>
<text transform="translate(102.3,83) scale(0.88,1)" font-size="6.3" text-anchor="end" fill="#3a3a3a">5</text>
<text transform="translate(107.1,133.15) scale(0.86,1)" font-size="6.4" text-anchor="middle" fill="#3a3a3a">0</text>
<text transform="translate(119.72,133.15) scale(0.86,1)" font-size="6.4" text-anchor="middle" fill="#3a3a3a">5</text>
<text transform="translate(132.34,133.15) scale(0.86,1)" font-size="6.4" text-anchor="middle" fill="#3a3a3a">10</text>
<text transform="translate(144.96,133.15) scale(0.86,1)" font-size="6.4" text-anchor="middle" fill="#3a3a3a">15</text>
<text transform="translate(157.58,133.15) scale(0.86,1)" font-size="6.4" text-anchor="middle" fill="#3a3a3a">20</text>
<text transform="translate(170.2,133.15) scale(0.86,1)" font-size="6.4" text-anchor="middle" fill="#3a3a3a">25</text>
<path d="M187.5 115H250.5" stroke="#b0b0b0" stroke-width="0.7" stroke-dasharray="1,0.9" fill="none"/>
<path d="M187.5 119.9H250.5" stroke="#b8d4ee" stroke-width="0.7" stroke-dasharray="1,0.9" fill="none"/>
<path d="M186.9 111 L189.44 103.6 L191.99 99.3 L194.53 94.3 L197.08 93.6 L207.25 114 L217.43 116 L227.6 113 L247.96 116" stroke="#7a7ad0" stroke-width="0.85" fill="none" stroke-linejoin="round" stroke-dasharray="1.8,1"/>
<path d="M186.9 109.55l1.35 2.3h-2.7z" fill="#fff" stroke="#6a6ac8" stroke-width="0.55"/><path d="M189.44 102.15l1.35 2.3h-2.7z" fill="#fff" stroke="#6a6ac8" stroke-width="0.55"/><path d="M191.99 97.85l1.35 2.3h-2.7z" fill="#fff" stroke="#6a6ac8" stroke-width="0.55"/><path d="M194.53 92.85l1.35 2.3h-2.7z" fill="#fff" stroke="#6a6ac8" stroke-width="0.55"/><path d="M197.08 92.15l1.35 2.3h-2.7z" fill="#fff" stroke="#6a6ac8" stroke-width="0.55"/><path d="M207.25 112.55l1.35 2.3h-2.7z" fill="#fff" stroke="#6a6ac8" stroke-width="0.55"/><path d="M217.43 114.55l1.35 2.3h-2.7z" fill="#fff" stroke="#6a6ac8" stroke-width="0.55"/><path d="M227.6 111.55l1.35 2.3h-2.7z" fill="#fff" stroke="#6a6ac8" stroke-width="0.55"/><path d="M247.96 114.55l1.35 2.3h-2.7z" fill="#fff" stroke="#6a6ac8" stroke-width="0.55"/>
<path d="M186.9 113.6 L189.44 112 L191.99 110 L194.53 107.5 L197.08 96.4 L207.25 114.3 L217.43 117.1 L227.6 111.4 L247.96 117.1" stroke="#3a4660" stroke-width="0.9" fill="none" stroke-linejoin="round"/>
<path d="M186.9 112.4l1.2 1.2l-1.2 1.2l-1.2 -1.2z" fill="#2a3550"/><path d="M189.44 110.8l1.2 1.2l-1.2 1.2l-1.2 -1.2z" fill="#2a3550"/><path d="M191.99 108.8l1.2 1.2l-1.2 1.2l-1.2 -1.2z" fill="#2a3550"/><path d="M194.53 106.3l1.2 1.2l-1.2 1.2l-1.2 -1.2z" fill="#2a3550"/><path d="M197.08 95.2l1.2 1.2l-1.2 1.2l-1.2 -1.2z" fill="#2a3550"/><path d="M207.25 113.1l1.2 1.2l-1.2 1.2l-1.2 -1.2z" fill="#2a3550"/><path d="M217.43 115.9l1.2 1.2l-1.2 1.2l-1.2 -1.2z" fill="#2a3550"/><path d="M227.6 110.2l1.2 1.2l-1.2 1.2l-1.2 -1.2z" fill="#2a3550"/><path d="M247.96 115.9l1.2 1.2l-1.2 1.2l-1.2 -1.2z" fill="#2a3550"/>
<path d="M186.9 114.3 L189.44 107.6 L191.99 108.5 L194.53 107.1 L197.08 109 L217.43 109.6 L227.6 113.6 L247.96 114.3" stroke="#c8213f" stroke-width="0.95" fill="none" stroke-linejoin="round"/>
<circle cx="186.9" cy="114.3" r="0.75" fill="#b8102e"/><circle cx="189.44" cy="107.6" r="0.75" fill="#b8102e"/><circle cx="191.99" cy="108.5" r="0.75" fill="#b8102e"/><circle cx="194.53" cy="107.1" r="0.75" fill="#b8102e"/><circle cx="197.08" cy="109" r="0.75" fill="#b8102e"/><circle cx="217.43" cy="109.6" r="0.75" fill="#b8102e"/><circle cx="227.6" cy="113.6" r="0.75" fill="#b8102e"/><circle cx="247.96" cy="114.3" r="0.75" fill="#b8102e"/>
<path d="M186.9 77.9V124.15M184.3 123.65H253.3M184.1 123.65H186.9M184.1 115.08H186.9M184.1 106.51H186.9M184.1 97.94H186.9M184.1 89.37H186.9M184.1 80.8H186.9M185.4 119.37H186.9M185.4 110.8H186.9M185.4 102.22H186.9M185.4 93.66H186.9M185.4 85.08H186.9M186.9 123.65V126.25M199.62 123.65V126.25M212.34 123.65V126.25M225.06 123.65V126.25M237.78 123.65V126.25M250.5 123.65V126.25M193.26 123.65V125.05M205.98 123.65V125.05M218.7 123.65V125.05M231.42 123.65V125.05M244.14 123.65V125.05" stroke="#111" stroke-width="0.95" fill="none"/>
<text transform="translate(182.3,125.85) scale(0.88,1)" font-size="6.3" text-anchor="end" fill="#3a3a3a">0</text>
<text transform="translate(182.3,117.28) scale(0.88,1)" font-size="6.3" text-anchor="end" fill="#3a3a3a">1</text>
<text transform="translate(182.3,108.71) scale(0.88,1)" font-size="6.3" text-anchor="end" fill="#3a3a3a">2</text>
<text transform="translate(182.3,100.14) scale(0.88,1)" font-size="6.3" text-anchor="end" fill="#3a3a3a">3</text>
<text transform="translate(182.3,91.57) scale(0.88,1)" font-size="6.3" text-anchor="end" fill="#3a3a3a">4</text>
<text transform="translate(182.3,83) scale(0.88,1)" font-size="6.3" text-anchor="end" fill="#3a3a3a">5</text>
<text transform="translate(187.1,133.15) scale(0.86,1)" font-size="6.4" text-anchor="middle" fill="#3a3a3a">0</text>
<text transform="translate(199.82,133.15) scale(0.86,1)" font-size="6.4" text-anchor="middle" fill="#3a3a3a">5</text>
<text transform="translate(212.54,133.15) scale(0.86,1)" font-size="6.4" text-anchor="middle" fill="#3a3a3a">10</text>
<text transform="translate(225.26,133.15) scale(0.86,1)" font-size="6.4" text-anchor="middle" fill="#3a3a3a">15</text>
<text transform="translate(237.98,133.15) scale(0.86,1)" font-size="6.4" text-anchor="middle" fill="#3a3a3a">20</text>
<text transform="translate(250.7,133.15) scale(0.86,1)" font-size="6.4" text-anchor="middle" fill="#3a3a3a">25</text>
<path d="M267 115H330.5" stroke="#b0b0b0" stroke-width="0.7" stroke-dasharray="1,0.9" fill="none"/>
<path d="M267 119.9H330.5" stroke="#b8d4ee" stroke-width="0.7" stroke-dasharray="1,0.9" fill="none"/>
<path d="M266.4 118 L270.25 110.7 L274.09 105.7 L276.66 113.2 L279.22 114 L286.91 116.9 L297.17 114 L307.42 113 L327.94 117" stroke="#7a7ad0" stroke-width="0.85" fill="none" stroke-linejoin="round" stroke-dasharray="1.8,1"/>
<path d="M266.4 116.55l1.35 2.3h-2.7z" fill="#fff" stroke="#6a6ac8" stroke-width="0.55"/><path d="M270.25 109.25l1.35 2.3h-2.7z" fill="#fff" stroke="#6a6ac8" stroke-width="0.55"/><path d="M274.09 104.25l1.35 2.3h-2.7z" fill="#fff" stroke="#6a6ac8" stroke-width="0.55"/><path d="M276.66 111.75l1.35 2.3h-2.7z" fill="#fff" stroke="#6a6ac8" stroke-width="0.55"/><path d="M279.22 112.55l1.35 2.3h-2.7z" fill="#fff" stroke="#6a6ac8" stroke-width="0.55"/><path d="M286.91 115.45l1.35 2.3h-2.7z" fill="#fff" stroke="#6a6ac8" stroke-width="0.55"/><path d="M297.17 112.55l1.35 2.3h-2.7z" fill="#fff" stroke="#6a6ac8" stroke-width="0.55"/><path d="M307.42 111.55l1.35 2.3h-2.7z" fill="#fff" stroke="#6a6ac8" stroke-width="0.55"/><path d="M327.94 115.55l1.35 2.3h-2.7z" fill="#fff" stroke="#6a6ac8" stroke-width="0.55"/>
<path d="M266.4 117.4 L270.25 110.7 L274.09 104.5 L276.66 100.7 L286.91 115.2 L297.17 113.6 L307.42 112.4 L327.94 117.4" stroke="#3a4660" stroke-width="0.9" fill="none" stroke-linejoin="round"/>
<path d="M266.4 116.2l1.2 1.2l-1.2 1.2l-1.2 -1.2z" fill="#2a3550"/><path d="M270.25 109.5l1.2 1.2l-1.2 1.2l-1.2 -1.2z" fill="#2a3550"/><path d="M274.09 103.3l1.2 1.2l-1.2 1.2l-1.2 -1.2z" fill="#2a3550"/><path d="M276.66 99.5l1.2 1.2l-1.2 1.2l-1.2 -1.2z" fill="#2a3550"/><path d="M286.91 114l1.2 1.2l-1.2 1.2l-1.2 -1.2z" fill="#2a3550"/><path d="M297.17 112.4l1.2 1.2l-1.2 1.2l-1.2 -1.2z" fill="#2a3550"/><path d="M307.42 111.2l1.2 1.2l-1.2 1.2l-1.2 -1.2z" fill="#2a3550"/><path d="M327.94 116.2l1.2 1.2l-1.2 1.2l-1.2 -1.2z" fill="#2a3550"/>
<path d="M266.4 111.6 L268.96 106 L271.53 97 L274.09 90 L276.66 83.4 L286.91 106.5 L297.17 113.6 L307.42 114.1 L327.94 110.2" stroke="#c8213f" stroke-width="0.95" fill="none" stroke-linejoin="round"/>
<circle cx="266.4" cy="111.6" r="0.75" fill="#b8102e"/><circle cx="268.96" cy="106" r="0.75" fill="#b8102e"/><circle cx="271.53" cy="97" r="0.75" fill="#b8102e"/><circle cx="274.09" cy="90" r="0.75" fill="#b8102e"/><circle cx="276.66" cy="83.4" r="0.75" fill="#b8102e"/><circle cx="286.91" cy="106.5" r="0.75" fill="#b8102e"/><circle cx="297.17" cy="113.6" r="0.75" fill="#b8102e"/><circle cx="307.42" cy="114.1" r="0.75" fill="#b8102e"/><circle cx="327.94" cy="110.2" r="0.75" fill="#b8102e"/>
<path d="M266.4 77.9V124.15M263.8 123.65H333.3M263.6 123.65H266.4M263.6 115.08H266.4M263.6 106.51H266.4M263.6 97.94H266.4M263.6 89.37H266.4M263.6 80.8H266.4M264.9 119.37H266.4M264.9 110.8H266.4M264.9 102.22H266.4M264.9 93.66H266.4M264.9 85.08H266.4M266.4 123.65V126.25M279.22 123.65V126.25M292.04 123.65V126.25M304.86 123.65V126.25M317.68 123.65V126.25M330.5 123.65V126.25M272.81 123.65V125.05M285.63 123.65V125.05M298.45 123.65V125.05M311.27 123.65V125.05M324.09 123.65V125.05" stroke="#111" stroke-width="0.95" fill="none"/>
<text transform="translate(261.8,125.85) scale(0.88,1)" font-size="6.3" text-anchor="end" fill="#3a3a3a">0</text>
<text transform="translate(261.8,117.28) scale(0.88,1)" font-size="6.3" text-anchor="end" fill="#3a3a3a">1</text>
<text transform="translate(261.8,108.71) scale(0.88,1)" font-size="6.3" text-anchor="end" fill="#3a3a3a">2</text>
<text transform="translate(261.8,100.14) scale(0.88,1)" font-size="6.3" text-anchor="end" fill="#3a3a3a">3</text>
<text transform="translate(261.8,91.57) scale(0.88,1)" font-size="6.3" text-anchor="end" fill="#3a3a3a">4</text>
<text transform="translate(261.8,83) scale(0.88,1)" font-size="6.3" text-anchor="end" fill="#3a3a3a">5</text>
<text transform="translate(266.6,133.15) scale(0.86,1)" font-size="6.4" text-anchor="middle" fill="#3a3a3a">0</text>
<text transform="translate(279.42,133.15) scale(0.86,1)" font-size="6.4" text-anchor="middle" fill="#3a3a3a">5</text>
<text transform="translate(292.24,133.15) scale(0.86,1)" font-size="6.4" text-anchor="middle" fill="#3a3a3a">10</text>
<text transform="translate(305.06,133.15) scale(0.86,1)" font-size="6.4" text-anchor="middle" fill="#3a3a3a">15</text>
<text transform="translate(317.88,133.15) scale(0.86,1)" font-size="6.4" text-anchor="middle" fill="#3a3a3a">20</text>
<text transform="translate(330.7,133.15) scale(0.86,1)" font-size="6.4" text-anchor="middle" fill="#3a3a3a">25</text>
<path d="M347.7 115H410.5" stroke="#b0b0b0" stroke-width="0.7" stroke-dasharray="1,0.9" fill="none"/>
<path d="M347.7 119.9H410.5" stroke="#b8d4ee" stroke-width="0.7" stroke-dasharray="1,0.9" fill="none"/>
<path d="M347.1 117.5 L349.64 110.5 L352.17 106.3 L354.71 102.8 L357.24 103 L367.39 114.8 L377.53 115.5 L387.68 114.5 L407.96 114.8" stroke="#3a4660" stroke-width="0.9" fill="none" stroke-linejoin="round"/>
<path d="M347.1 116.3l1.2 1.2l-1.2 1.2l-1.2 -1.2z" fill="#2a3550"/><path d="M349.64 109.3l1.2 1.2l-1.2 1.2l-1.2 -1.2z" fill="#2a3550"/><path d="M352.17 105.1l1.2 1.2l-1.2 1.2l-1.2 -1.2z" fill="#2a3550"/><path d="M354.71 101.6l1.2 1.2l-1.2 1.2l-1.2 -1.2z" fill="#2a3550"/><path d="M357.24 101.8l1.2 1.2l-1.2 1.2l-1.2 -1.2z" fill="#2a3550"/><path d="M367.39 113.6l1.2 1.2l-1.2 1.2l-1.2 -1.2z" fill="#2a3550"/><path d="M377.53 114.3l1.2 1.2l-1.2 1.2l-1.2 -1.2z" fill="#2a3550"/><path d="M387.68 113.3l1.2 1.2l-1.2 1.2l-1.2 -1.2z" fill="#2a3550"/><path d="M407.96 113.6l1.2 1.2l-1.2 1.2l-1.2 -1.2z" fill="#2a3550"/>
<path d="M347.1 117.5 L349.64 111.6 L352.17 107 L354.71 102.8 L357.24 103.1 L367.39 114.2 L377.53 116.1 L387.68 114.8 L407.96 114.2" stroke="#2f5ea6" stroke-width="0.95" fill="none" stroke-linejoin="round"/>
<circle cx="347.1" cy="117.5" r="1.1" fill="#1f4a94"/><circle cx="349.64" cy="111.6" r="1.1" fill="#1f4a94"/><circle cx="352.17" cy="107" r="1.1" fill="#1f4a94"/><circle cx="354.71" cy="102.8" r="1.1" fill="#1f4a94"/><circle cx="357.24" cy="103.1" r="1.1" fill="#1f4a94"/><circle cx="367.39" cy="114.2" r="1.1" fill="#1f4a94"/><circle cx="377.53" cy="116.1" r="1.1" fill="#1f4a94"/><circle cx="387.68" cy="114.8" r="1.1" fill="#1f4a94"/><circle cx="407.96" cy="114.2" r="1.1" fill="#1f4a94"/>
<path d="M347.1 117.5 L352.17 112.9 L354.71 112.2 L357.24 105 L367.39 110.9 L377.53 113.3 L387.68 115.9 L407.96 119.4" stroke="#c8213f" stroke-width="0.95" fill="none" stroke-linejoin="round"/>
<circle cx="347.1" cy="117.5" r="0.75" fill="#b8102e"/><circle cx="352.17" cy="112.9" r="0.75" fill="#b8102e"/><circle cx="354.71" cy="112.2" r="0.75" fill="#b8102e"/><circle cx="357.24" cy="105" r="0.75" fill="#b8102e"/><circle cx="367.39" cy="110.9" r="0.75" fill="#b8102e"/><circle cx="377.53" cy="113.3" r="0.75" fill="#b8102e"/><circle cx="387.68" cy="115.9" r="0.75" fill="#b8102e"/><circle cx="407.96" cy="119.4" r="0.75" fill="#b8102e"/>
<path d="M347.1 77.9V124.15M344.5 123.65H413.3M344.3 123.65H347.1M344.3 115.08H347.1M344.3 106.51H347.1M344.3 97.94H347.1M344.3 89.37H347.1M344.3 80.8H347.1M345.6 119.37H347.1M345.6 110.8H347.1M345.6 102.22H347.1M345.6 93.66H347.1M345.6 85.08H347.1M347.1 123.65V126.25M359.78 123.65V126.25M372.46 123.65V126.25M385.14 123.65V126.25M397.82 123.65V126.25M410.5 123.65V126.25M353.44 123.65V125.05M366.12 123.65V125.05M378.8 123.65V125.05M391.48 123.65V125.05M404.16 123.65V125.05" stroke="#111" stroke-width="0.95" fill="none"/>
<text transform="translate(342.5,125.85) scale(0.88,1)" font-size="6.3" text-anchor="end" fill="#3a3a3a">0</text>
<text transform="translate(342.5,117.28) scale(0.88,1)" font-size="6.3" text-anchor="end" fill="#3a3a3a">1</text>
<text transform="translate(342.5,108.71) scale(0.88,1)" font-size="6.3" text-anchor="end" fill="#3a3a3a">2</text>
<text transform="translate(342.5,100.14) scale(0.88,1)" font-size="6.3" text-anchor="end" fill="#3a3a3a">3</text>
<text transform="translate(342.5,91.57) scale(0.88,1)" font-size="6.3" text-anchor="end" fill="#3a3a3a">4</text>
<text transform="translate(342.5,83) scale(0.88,1)" font-size="6.3" text-anchor="end" fill="#3a3a3a">5</text>
<text transform="translate(347.3,133.15) scale(0.86,1)" font-size="6.4" text-anchor="middle" fill="#3a3a3a">0</text>
<text transform="translate(359.98,133.15) scale(0.86,1)" font-size="6.4" text-anchor="middle" fill="#3a3a3a">5</text>
<text transform="translate(372.66,133.15) scale(0.86,1)" font-size="6.4" text-anchor="middle" fill="#3a3a3a">10</text>
<text transform="translate(385.34,133.15) scale(0.86,1)" font-size="6.4" text-anchor="middle" fill="#3a3a3a">15</text>
<text transform="translate(398.02,133.15) scale(0.86,1)" font-size="6.4" text-anchor="middle" fill="#3a3a3a">20</text>
<text transform="translate(410.7,133.15) scale(0.86,1)" font-size="6.4" text-anchor="middle" fill="#3a3a3a">25</text>
<path d="M427.1 115H490.5" stroke="#b0b0b0" stroke-width="0.7" stroke-dasharray="1,0.9" fill="none"/>
<path d="M427.1 119.9H490.5" stroke="#b8d4ee" stroke-width="0.7" stroke-dasharray="1,0.9" fill="none"/>
<path d="M426.5 118.9 L431.62 112.2 L436.74 107.8 L446.98 114.5 L457.22 118 L467.46 116.9 L487.94 119.6" stroke="#c8213f" stroke-width="0.95" fill="none" stroke-linejoin="round"/>
<circle cx="426.5" cy="118.9" r="0.75" fill="#b8102e"/><circle cx="431.62" cy="112.2" r="0.75" fill="#b8102e"/><circle cx="436.74" cy="107.8" r="0.75" fill="#b8102e"/><circle cx="446.98" cy="114.5" r="0.75" fill="#b8102e"/><circle cx="457.22" cy="118" r="0.75" fill="#b8102e"/><circle cx="467.46" cy="116.9" r="0.75" fill="#b8102e"/><circle cx="487.94" cy="119.6" r="0.75" fill="#b8102e"/>
<path d="M426.5 77.9V124.15M423.9 123.65H493.3M423.7 123.65H426.5M423.7 115.08H426.5M423.7 106.51H426.5M423.7 97.94H426.5M423.7 89.37H426.5M423.7 80.8H426.5M425 119.37H426.5M425 110.8H426.5M425 102.22H426.5M425 93.66H426.5M425 85.08H426.5M426.5 123.65V126.25M439.3 123.65V126.25M452.1 123.65V126.25M464.9 123.65V126.25M477.7 123.65V126.25M490.5 123.65V126.25M432.9 123.65V125.05M445.7 123.65V125.05M458.5 123.65V125.05M471.3 123.65V125.05M484.1 123.65V125.05" stroke="#111" stroke-width="0.95" fill="none"/>
<text transform="translate(421.9,125.85) scale(0.88,1)" font-size="6.3" text-anchor="end" fill="#3a3a3a">0</text>
<text transform="translate(421.9,117.28) scale(0.88,1)" font-size="6.3" text-anchor="end" fill="#3a3a3a">1</text>
<text transform="translate(421.9,108.71) scale(0.88,1)" font-size="6.3" text-anchor="end" fill="#3a3a3a">2</text>
<text transform="translate(421.9,100.14) scale(0.88,1)" font-size="6.3" text-anchor="end" fill="#3a3a3a">3</text>
<text transform="translate(421.9,91.57) scale(0.88,1)" font-size="6.3" text-anchor="end" fill="#3a3a3a">4</text>
<text transform="translate(421.9,83) scale(0.88,1)" font-size="6.3" text-anchor="end" fill="#3a3a3a">5</text>
<text transform="translate(426.7,133.15) scale(0.86,1)" font-size="6.4" text-anchor="middle" fill="#3a3a3a">0</text>
<text transform="translate(439.5,133.15) scale(0.86,1)" font-size="6.4" text-anchor="middle" fill="#3a3a3a">5</text>
<text transform="translate(452.3,133.15) scale(0.86,1)" font-size="6.4" text-anchor="middle" fill="#3a3a3a">10</text>
<text transform="translate(465.1,133.15) scale(0.86,1)" font-size="6.4" text-anchor="middle" fill="#3a3a3a">15</text>
<text transform="translate(477.9,133.15) scale(0.86,1)" font-size="6.4" text-anchor="middle" fill="#3a3a3a">20</text>
<text transform="translate(490.7,133.15) scale(0.86,1)" font-size="6.4" text-anchor="middle" fill="#3a3a3a">25</text>
<path d="M27.1 177.3H90.8" stroke="#b0b0b0" stroke-width="0.7" stroke-dasharray="1,0.9" fill="none"/>
<path d="M27.1 182.6H90.8" stroke="#b8d4ee" stroke-width="0.7" stroke-dasharray="1,0.9" fill="none"/>
<path d="M26.5 186 L36.79 186.5 L47.08 187 L88.23 187" stroke="#c4c4c8" stroke-width="0.85" fill="none" stroke-linejoin="round"/>
<circle cx="26.5" cy="186" r="0.9" fill="#fff" stroke="#b8b8bc" stroke-width="0.6"/><circle cx="36.79" cy="186.5" r="0.9" fill="#fff" stroke="#b8b8bc" stroke-width="0.6"/><circle cx="47.08" cy="187" r="0.9" fill="#fff" stroke="#b8b8bc" stroke-width="0.6"/><circle cx="88.23" cy="187" r="0.9" fill="#fff" stroke="#b8b8bc" stroke-width="0.6"/>
<path d="M26.5 184 L29.07 181 L31.64 184 L36.79 185 L47.08 186 L57.36 186 L67.65 185.5 L88.23 186" stroke="#7a7ad0" stroke-width="0.85" fill="none" stroke-linejoin="round" stroke-dasharray="1.8,1"/>
<path d="M26.5 182.55l1.35 2.3h-2.7z" fill="#fff" stroke="#6a6ac8" stroke-width="0.55"/><path d="M29.07 179.55l1.35 2.3h-2.7z" fill="#fff" stroke="#6a6ac8" stroke-width="0.55"/><path d="M31.64 182.55l1.35 2.3h-2.7z" fill="#fff" stroke="#6a6ac8" stroke-width="0.55"/><path d="M36.79 183.55l1.35 2.3h-2.7z" fill="#fff" stroke="#6a6ac8" stroke-width="0.55"/><path d="M47.08 184.55l1.35 2.3h-2.7z" fill="#fff" stroke="#6a6ac8" stroke-width="0.55"/><path d="M57.36 184.55l1.35 2.3h-2.7z" fill="#fff" stroke="#6a6ac8" stroke-width="0.55"/><path d="M67.65 184.05l1.35 2.3h-2.7z" fill="#fff" stroke="#6a6ac8" stroke-width="0.55"/><path d="M88.23 184.55l1.35 2.3h-2.7z" fill="#fff" stroke="#6a6ac8" stroke-width="0.55"/>
<path d="M26.5 185 L30.36 181.5 L34.22 185.5 L36.79 184.8 L47.08 186.1 L57.36 185.5 L67.65 185 L88.23 186.1" stroke="#8c68ac" stroke-width="0.9" fill="none" stroke-linejoin="round"/>
<circle cx="26.5" cy="185" r="1.05" fill="#c9b4dc" stroke="#7a4e9c" stroke-width="0.8"/><circle cx="30.36" cy="181.5" r="1.05" fill="#c9b4dc" stroke="#7a4e9c" stroke-width="0.8"/><circle cx="34.22" cy="185.5" r="1.05" fill="#c9b4dc" stroke="#7a4e9c" stroke-width="0.8"/><circle cx="36.79" cy="184.8" r="1.05" fill="#c9b4dc" stroke="#7a4e9c" stroke-width="0.8"/><circle cx="47.08" cy="186.1" r="1.05" fill="#c9b4dc" stroke="#7a4e9c" stroke-width="0.8"/><circle cx="57.36" cy="185.5" r="1.05" fill="#c9b4dc" stroke="#7a4e9c" stroke-width="0.8"/><circle cx="67.65" cy="185" r="1.05" fill="#c9b4dc" stroke="#7a4e9c" stroke-width="0.8"/><circle cx="88.23" cy="186.1" r="1.05" fill="#c9b4dc" stroke="#7a4e9c" stroke-width="0.8"/>
<path d="M26.5 171.4 L27.79 170 L29.07 167.1 L30.36 163.6 L31.64 167.1 L34.22 164.3 L36.79 161.1 L47.08 166 L57.36 169.3 L67.65 168.3 L88.23 170.3" stroke="#2f5ea6" stroke-width="0.95" fill="none" stroke-linejoin="round"/>
<circle cx="26.5" cy="171.4" r="1.1" fill="#1f4a94"/><circle cx="27.79" cy="170" r="1.1" fill="#1f4a94"/><circle cx="29.07" cy="167.1" r="1.1" fill="#1f4a94"/><circle cx="30.36" cy="163.6" r="1.1" fill="#1f4a94"/><circle cx="31.64" cy="167.1" r="1.1" fill="#1f4a94"/><circle cx="34.22" cy="164.3" r="1.1" fill="#1f4a94"/><circle cx="36.79" cy="161.1" r="1.1" fill="#1f4a94"/><circle cx="47.08" cy="166" r="1.1" fill="#1f4a94"/><circle cx="57.36" cy="169.3" r="1.1" fill="#1f4a94"/><circle cx="67.65" cy="168.3" r="1.1" fill="#1f4a94"/><circle cx="88.23" cy="170.3" r="1.1" fill="#1f4a94"/>
<path d="M26.5 185.5 L29.07 183 L30.36 179.4 L31.64 183.4 L34.22 182.1 L36.79 179 L47.08 182.5 L57.36 184.8 L67.65 182.8 L88.23 183.4" stroke="#c8213f" stroke-width="0.95" fill="none" stroke-linejoin="round"/>
<circle cx="26.5" cy="185.5" r="0.75" fill="#b8102e"/><circle cx="29.07" cy="183" r="0.75" fill="#b8102e"/><circle cx="30.36" cy="179.4" r="0.75" fill="#b8102e"/><circle cx="31.64" cy="183.4" r="0.75" fill="#b8102e"/><circle cx="34.22" cy="182.1" r="0.75" fill="#b8102e"/><circle cx="36.79" cy="179" r="0.75" fill="#b8102e"/><circle cx="47.08" cy="182.5" r="0.75" fill="#b8102e"/><circle cx="57.36" cy="184.8" r="0.75" fill="#b8102e"/><circle cx="67.65" cy="182.8" r="0.75" fill="#b8102e"/><circle cx="88.23" cy="183.4" r="0.75" fill="#b8102e"/>
<path d="M26.5 142.1V188.7M23.9 188.2H93.6M23.7 188.2H26.5M23.7 177.4H26.5M23.7 166.6H26.5M23.7 155.8H26.5M23.7 145H26.5M25 182.8H26.5M25 172H26.5M25 161.2H26.5M25 150.4H26.5M26.5 188.2V190.8M39.36 188.2V190.8M52.22 188.2V190.8M65.08 188.2V190.8M77.94 188.2V190.8M90.8 188.2V190.8M32.93 188.2V189.6M45.79 188.2V189.6M58.65 188.2V189.6M71.51 188.2V189.6M84.37 188.2V189.6" stroke="#111" stroke-width="0.95" fill="none"/>
<text transform="translate(21.9,190.4) scale(0.88,1)" font-size="6.3" text-anchor="end" fill="#3a3a3a">0</text>
<text transform="translate(21.9,179.6) scale(0.88,1)" font-size="6.3" text-anchor="end" fill="#3a3a3a">0.5</text>
<text transform="translate(21.9,168.8) scale(0.88,1)" font-size="6.3" text-anchor="end" fill="#3a3a3a">1</text>
<text transform="translate(21.9,158) scale(0.88,1)" font-size="6.3" text-anchor="end" fill="#3a3a3a">1.5</text>
<text transform="translate(21.9,147.2) scale(0.88,1)" font-size="6.3" text-anchor="end" fill="#3a3a3a">2</text>
<text transform="translate(26.7,197.7) scale(0.86,1)" font-size="6.4" text-anchor="middle" fill="#3a3a3a">0</text>
<text transform="translate(39.56,197.7) scale(0.86,1)" font-size="6.4" text-anchor="middle" fill="#3a3a3a">5</text>
<text transform="translate(52.42,197.7) scale(0.86,1)" font-size="6.4" text-anchor="middle" fill="#3a3a3a">10</text>
<text transform="translate(65.28,197.7) scale(0.86,1)" font-size="6.4" text-anchor="middle" fill="#3a3a3a">15</text>
<text transform="translate(78.14,197.7) scale(0.86,1)" font-size="6.4" text-anchor="middle" fill="#3a3a3a">20</text>
<text transform="translate(91,197.7) scale(0.86,1)" font-size="6.4" text-anchor="middle" fill="#3a3a3a">25</text>
<path d="M107.1 177.3H172.3" stroke="#b0b0b0" stroke-width="0.7" stroke-dasharray="1,0.9" fill="none"/>
<path d="M107.1 182.6H172.3" stroke="#b8d4ee" stroke-width="0.7" stroke-dasharray="1,0.9" fill="none"/>
<path d="M106.5 185 L111.76 186 L117.03 186.5 L127.56 187 L138.08 187 L148.61 186.9 L169.67 187" stroke="#7a7ad0" stroke-width="0.85" fill="none" stroke-linejoin="round" stroke-dasharray="1.8,1"/>
<path d="M106.5 183.55l1.35 2.3h-2.7z" fill="#fff" stroke="#6a6ac8" stroke-width="0.55"/><path d="M111.76 184.55l1.35 2.3h-2.7z" fill="#fff" stroke="#6a6ac8" stroke-width="0.55"/><path d="M117.03 185.05l1.35 2.3h-2.7z" fill="#fff" stroke="#6a6ac8" stroke-width="0.55"/><path d="M127.56 185.55l1.35 2.3h-2.7z" fill="#fff" stroke="#6a6ac8" stroke-width="0.55"/><path d="M138.08 185.55l1.35 2.3h-2.7z" fill="#fff" stroke="#6a6ac8" stroke-width="0.55"/><path d="M148.61 185.45l1.35 2.3h-2.7z" fill="#fff" stroke="#6a6ac8" stroke-width="0.55"/><path d="M169.67 185.55l1.35 2.3h-2.7z" fill="#fff" stroke="#6a6ac8" stroke-width="0.55"/>
<path d="M106.5 182.5 L111.76 179 L114.4 178 L117.03 178.2 L127.56 180 L138.08 183 L148.61 183.1 L169.67 179.9" stroke="#8c68ac" stroke-width="0.9" fill="none" stroke-linejoin="round"/>
<circle cx="106.5" cy="182.5" r="1.05" fill="#c9b4dc" stroke="#7a4e9c" stroke-width="0.8"/><circle cx="111.76" cy="179" r="1.05" fill="#c9b4dc" stroke="#7a4e9c" stroke-width="0.8"/><circle cx="114.4" cy="178" r="1.05" fill="#c9b4dc" stroke="#7a4e9c" stroke-width="0.8"/><circle cx="117.03" cy="178.2" r="1.05" fill="#c9b4dc" stroke="#7a4e9c" stroke-width="0.8"/><circle cx="127.56" cy="180" r="1.05" fill="#c9b4dc" stroke="#7a4e9c" stroke-width="0.8"/><circle cx="138.08" cy="183" r="1.05" fill="#c9b4dc" stroke="#7a4e9c" stroke-width="0.8"/><circle cx="148.61" cy="183.1" r="1.05" fill="#c9b4dc" stroke="#7a4e9c" stroke-width="0.8"/><circle cx="169.67" cy="179.9" r="1.05" fill="#c9b4dc" stroke="#7a4e9c" stroke-width="0.8"/>
<path d="M106.5 182.2 L109.13 180 L111.76 178.2 L114.4 176.8 L117.03 178.2 L127.56 179.5 L138.08 182.9 L148.61 180.2 L169.67 177.2" stroke="#2f5ea6" stroke-width="0.95" fill="none" stroke-linejoin="round"/>
<circle cx="106.5" cy="182.2" r="1.1" fill="#1f4a94"/><circle cx="109.13" cy="180" r="1.1" fill="#1f4a94"/><circle cx="111.76" cy="178.2" r="1.1" fill="#1f4a94"/><circle cx="114.4" cy="176.8" r="1.1" fill="#1f4a94"/><circle cx="117.03" cy="178.2" r="1.1" fill="#1f4a94"/><circle cx="127.56" cy="179.5" r="1.1" fill="#1f4a94"/><circle cx="138.08" cy="182.9" r="1.1" fill="#1f4a94"/><circle cx="148.61" cy="180.2" r="1.1" fill="#1f4a94"/><circle cx="169.67" cy="177.2" r="1.1" fill="#1f4a94"/>
<path d="M106.5 184.9 L109.13 181.5 L111.76 180 L114.4 179 L117.03 177.5 L127.56 174.1 L138.08 183.6 L148.61 185.3 L169.67 184.5" stroke="#c8213f" stroke-width="0.95" fill="none" stroke-linejoin="round"/>
<circle cx="106.5" cy="184.9" r="0.75" fill="#b8102e"/><circle cx="109.13" cy="181.5" r="0.75" fill="#b8102e"/><circle cx="111.76" cy="180" r="0.75" fill="#b8102e"/><circle cx="114.4" cy="179" r="0.75" fill="#b8102e"/><circle cx="117.03" cy="177.5" r="0.75" fill="#b8102e"/><circle cx="127.56" cy="174.1" r="0.75" fill="#b8102e"/><circle cx="138.08" cy="183.6" r="0.75" fill="#b8102e"/><circle cx="148.61" cy="185.3" r="0.75" fill="#b8102e"/><circle cx="169.67" cy="184.5" r="0.75" fill="#b8102e"/>
<path d="M106.5 142.1V188.7M103.9 188.2H175.1M103.7 188.2H106.5M103.7 177.4H106.5M103.7 166.6H106.5M103.7 155.8H106.5M103.7 145H106.5M105 182.8H106.5M105 172H106.5M105 161.2H106.5M105 150.4H106.5M106.5 188.2V190.8M119.66 188.2V190.8M132.82 188.2V190.8M145.98 188.2V190.8M159.14 188.2V190.8M172.3 188.2V190.8M113.08 188.2V189.6M126.24 188.2V189.6M139.4 188.2V189.6M152.56 188.2V189.6M165.72 188.2V189.6" stroke="#111" stroke-width="0.95" fill="none"/>
<text transform="translate(101.9,190.4) scale(0.88,1)" font-size="6.3" text-anchor="end" fill="#3a3a3a">0</text>
<text transform="translate(101.9,179.6) scale(0.88,1)" font-size="6.3" text-anchor="end" fill="#3a3a3a">0.5</text>
<text transform="translate(101.9,168.8) scale(0.88,1)" font-size="6.3" text-anchor="end" fill="#3a3a3a">1</text>
<text transform="translate(101.9,158) scale(0.88,1)" font-size="6.3" text-anchor="end" fill="#3a3a3a">1.5</text>
<text transform="translate(101.9,147.2) scale(0.88,1)" font-size="6.3" text-anchor="end" fill="#3a3a3a">2</text>
<text transform="translate(106.7,197.7) scale(0.86,1)" font-size="6.4" text-anchor="middle" fill="#3a3a3a">0</text>
<text transform="translate(119.86,197.7) scale(0.86,1)" font-size="6.4" text-anchor="middle" fill="#3a3a3a">5</text>
<text transform="translate(133.02,197.7) scale(0.86,1)" font-size="6.4" text-anchor="middle" fill="#3a3a3a">10</text>
<text transform="translate(146.18,197.7) scale(0.86,1)" font-size="6.4" text-anchor="middle" fill="#3a3a3a">15</text>
<text transform="translate(159.34,197.7) scale(0.86,1)" font-size="6.4" text-anchor="middle" fill="#3a3a3a">20</text>
<text transform="translate(172.5,197.7) scale(0.86,1)" font-size="6.4" text-anchor="middle" fill="#3a3a3a">25</text>
<path d="M186.9 177.3H250.5" stroke="#b0b0b0" stroke-width="0.7" stroke-dasharray="1,0.9" fill="none"/>
<path d="M186.9 182.6H250.5" stroke="#b8d4ee" stroke-width="0.7" stroke-dasharray="1,0.9" fill="none"/>
<path d="M186.3 168.6 L188.87 164.3 L191.44 171.4 L194 163.6 L196.57 173.6 L206.84 179.3 L217.12 176.4 L227.39 182.1 L247.93 182.9" stroke="#7a7ad0" stroke-width="0.85" fill="none" stroke-linejoin="round" stroke-dasharray="1.8,1"/>
<path d="M186.3 167.15l1.35 2.3h-2.7z" fill="#fff" stroke="#6a6ac8" stroke-width="0.55"/><path d="M188.87 162.85l1.35 2.3h-2.7z" fill="#fff" stroke="#6a6ac8" stroke-width="0.55"/><path d="M191.44 169.95l1.35 2.3h-2.7z" fill="#fff" stroke="#6a6ac8" stroke-width="0.55"/><path d="M194 162.15l1.35 2.3h-2.7z" fill="#fff" stroke="#6a6ac8" stroke-width="0.55"/><path d="M196.57 172.15l1.35 2.3h-2.7z" fill="#fff" stroke="#6a6ac8" stroke-width="0.55"/><path d="M206.84 177.85l1.35 2.3h-2.7z" fill="#fff" stroke="#6a6ac8" stroke-width="0.55"/><path d="M217.12 174.95l1.35 2.3h-2.7z" fill="#fff" stroke="#6a6ac8" stroke-width="0.55"/><path d="M227.39 180.65l1.35 2.3h-2.7z" fill="#fff" stroke="#6a6ac8" stroke-width="0.55"/><path d="M247.93 181.45l1.35 2.3h-2.7z" fill="#fff" stroke="#6a6ac8" stroke-width="0.55"/>
<path d="M186.3 182.9 L187.58 175 L189.9 182.9 L191.95 174.3 L194 178.6 L196.57 176.4 L206.84 174.3 L217.12 180 L227.39 184.3 L247.93 184" stroke="#3a4660" stroke-width="0.9" fill="none" stroke-linejoin="round"/>
<path d="M186.3 181.7l1.2 1.2l-1.2 1.2l-1.2 -1.2z" fill="#2a3550"/><path d="M187.58 173.8l1.2 1.2l-1.2 1.2l-1.2 -1.2z" fill="#2a3550"/><path d="M189.9 181.7l1.2 1.2l-1.2 1.2l-1.2 -1.2z" fill="#2a3550"/><path d="M191.95 173.1l1.2 1.2l-1.2 1.2l-1.2 -1.2z" fill="#2a3550"/><path d="M194 177.4l1.2 1.2l-1.2 1.2l-1.2 -1.2z" fill="#2a3550"/><path d="M196.57 175.2l1.2 1.2l-1.2 1.2l-1.2 -1.2z" fill="#2a3550"/><path d="M206.84 173.1l1.2 1.2l-1.2 1.2l-1.2 -1.2z" fill="#2a3550"/><path d="M217.12 178.8l1.2 1.2l-1.2 1.2l-1.2 -1.2z" fill="#2a3550"/><path d="M227.39 183.1l1.2 1.2l-1.2 1.2l-1.2 -1.2z" fill="#2a3550"/><path d="M247.93 182.8l1.2 1.2l-1.2 1.2l-1.2 -1.2z" fill="#2a3550"/>
<path d="M186.3 185 L191.44 182 L194 181.1 L196.57 186.4 L217.12 181.1 L227.39 184.3 L247.93 184.3" stroke="#c8213f" stroke-width="0.95" fill="none" stroke-linejoin="round"/>
<circle cx="186.3" cy="185" r="0.75" fill="#b8102e"/><circle cx="191.44" cy="182" r="0.75" fill="#b8102e"/><circle cx="194" cy="181.1" r="0.75" fill="#b8102e"/><circle cx="196.57" cy="186.4" r="0.75" fill="#b8102e"/><circle cx="217.12" cy="181.1" r="0.75" fill="#b8102e"/><circle cx="227.39" cy="184.3" r="0.75" fill="#b8102e"/><circle cx="247.93" cy="184.3" r="0.75" fill="#b8102e"/>
<path d="M186.3 142.1V188.7M183.7 188.2H253.3M183.5 188.2H186.3M183.5 177.4H186.3M183.5 166.6H186.3M183.5 155.8H186.3M183.5 145H186.3M184.8 182.8H186.3M184.8 172H186.3M184.8 161.2H186.3M184.8 150.4H186.3M186.3 188.2V190.8M199.14 188.2V190.8M211.98 188.2V190.8M224.82 188.2V190.8M237.66 188.2V190.8M250.5 188.2V190.8M192.72 188.2V189.6M205.56 188.2V189.6M218.4 188.2V189.6M231.24 188.2V189.6M244.08 188.2V189.6" stroke="#111" stroke-width="0.95" fill="none"/>
<text transform="translate(181.7,190.4) scale(0.88,1)" font-size="6.3" text-anchor="end" fill="#3a3a3a">0</text>
<text transform="translate(181.7,179.6) scale(0.88,1)" font-size="6.3" text-anchor="end" fill="#3a3a3a">0.5</text>
<text transform="translate(181.7,168.8) scale(0.88,1)" font-size="6.3" text-anchor="end" fill="#3a3a3a">1</text>
<text transform="translate(181.7,158) scale(0.88,1)" font-size="6.3" text-anchor="end" fill="#3a3a3a">1.5</text>
<text transform="translate(181.7,147.2) scale(0.88,1)" font-size="6.3" text-anchor="end" fill="#3a3a3a">2</text>
<text transform="translate(186.5,197.7) scale(0.86,1)" font-size="6.4" text-anchor="middle" fill="#3a3a3a">0</text>
<text transform="translate(199.34,197.7) scale(0.86,1)" font-size="6.4" text-anchor="middle" fill="#3a3a3a">5</text>
<text transform="translate(212.18,197.7) scale(0.86,1)" font-size="6.4" text-anchor="middle" fill="#3a3a3a">10</text>
<text transform="translate(225.02,197.7) scale(0.86,1)" font-size="6.4" text-anchor="middle" fill="#3a3a3a">15</text>
<text transform="translate(237.86,197.7) scale(0.86,1)" font-size="6.4" text-anchor="middle" fill="#3a3a3a">20</text>
<text transform="translate(250.7,197.7) scale(0.86,1)" font-size="6.4" text-anchor="middle" fill="#3a3a3a">25</text>
<path d="M266.9 177.3H330.5" stroke="#b0b0b0" stroke-width="0.7" stroke-dasharray="1,0.9" fill="none"/>
<path d="M266.9 182.6H330.5" stroke="#b8d4ee" stroke-width="0.7" stroke-dasharray="1,0.9" fill="none"/>
<path d="M266.3 184.3 L268.35 180 L270.41 176.4 L272.72 174.3 L275.29 176.4 L286.84 184 L297.12 186.9 L307.39 186.4 L327.93 185.7" stroke="#7a7ad0" stroke-width="0.85" fill="none" stroke-linejoin="round" stroke-dasharray="1.8,1"/>
<path d="M266.3 182.85l1.35 2.3h-2.7z" fill="#fff" stroke="#6a6ac8" stroke-width="0.55"/><path d="M268.35 178.55l1.35 2.3h-2.7z" fill="#fff" stroke="#6a6ac8" stroke-width="0.55"/><path d="M270.41 174.95l1.35 2.3h-2.7z" fill="#fff" stroke="#6a6ac8" stroke-width="0.55"/><path d="M272.72 172.85l1.35 2.3h-2.7z" fill="#fff" stroke="#6a6ac8" stroke-width="0.55"/><path d="M275.29 174.95l1.35 2.3h-2.7z" fill="#fff" stroke="#6a6ac8" stroke-width="0.55"/><path d="M286.84 182.55l1.35 2.3h-2.7z" fill="#fff" stroke="#6a6ac8" stroke-width="0.55"/><path d="M297.12 185.45l1.35 2.3h-2.7z" fill="#fff" stroke="#6a6ac8" stroke-width="0.55"/><path d="M307.39 184.95l1.35 2.3h-2.7z" fill="#fff" stroke="#6a6ac8" stroke-width="0.55"/><path d="M327.93 184.25l1.35 2.3h-2.7z" fill="#fff" stroke="#6a6ac8" stroke-width="0.55"/>
<path d="M266.3 183.6 L268.87 180 L271.44 183.6 L274 178 L276.57 173.6 L286.84 182.9 L297.12 185.4 L307.39 185.7 L327.93 185" stroke="#3a4660" stroke-width="0.9" fill="none" stroke-linejoin="round"/>
<path d="M266.3 182.4l1.2 1.2l-1.2 1.2l-1.2 -1.2z" fill="#2a3550"/><path d="M268.87 178.8l1.2 1.2l-1.2 1.2l-1.2 -1.2z" fill="#2a3550"/><path d="M271.44 182.4l1.2 1.2l-1.2 1.2l-1.2 -1.2z" fill="#2a3550"/><path d="M274 176.8l1.2 1.2l-1.2 1.2l-1.2 -1.2z" fill="#2a3550"/><path d="M276.57 172.4l1.2 1.2l-1.2 1.2l-1.2 -1.2z" fill="#2a3550"/><path d="M286.84 181.7l1.2 1.2l-1.2 1.2l-1.2 -1.2z" fill="#2a3550"/><path d="M297.12 184.2l1.2 1.2l-1.2 1.2l-1.2 -1.2z" fill="#2a3550"/><path d="M307.39 184.5l1.2 1.2l-1.2 1.2l-1.2 -1.2z" fill="#2a3550"/><path d="M327.93 183.8l1.2 1.2l-1.2 1.2l-1.2 -1.2z" fill="#2a3550"/>
<path d="M266.3 172.1 L268.87 172.9 L271.44 170.7 L274 159.7 L276.57 168.3 L286.84 166 L297.12 171.1 L307.39 171.4 L327.93 158.9" stroke="#c8213f" stroke-width="0.95" fill="none" stroke-linejoin="round"/>
<circle cx="266.3" cy="172.1" r="0.75" fill="#b8102e"/><circle cx="268.87" cy="172.9" r="0.75" fill="#b8102e"/><circle cx="271.44" cy="170.7" r="0.75" fill="#b8102e"/><circle cx="274" cy="159.7" r="0.75" fill="#b8102e"/><circle cx="276.57" cy="168.3" r="0.75" fill="#b8102e"/><circle cx="286.84" cy="166" r="0.75" fill="#b8102e"/><circle cx="297.12" cy="171.1" r="0.75" fill="#b8102e"/><circle cx="307.39" cy="171.4" r="0.75" fill="#b8102e"/><circle cx="327.93" cy="158.9" r="0.75" fill="#b8102e"/>
<path d="M266.3 142.1V188.7M263.7 188.2H333.3M263.5 188.2H266.3M263.5 177.4H266.3M263.5 166.6H266.3M263.5 155.8H266.3M263.5 145H266.3M264.8 182.8H266.3M264.8 172H266.3M264.8 161.2H266.3M264.8 150.4H266.3M266.3 188.2V190.8M279.14 188.2V190.8M291.98 188.2V190.8M304.82 188.2V190.8M317.66 188.2V190.8M330.5 188.2V190.8M272.72 188.2V189.6M285.56 188.2V189.6M298.4 188.2V189.6M311.24 188.2V189.6M324.08 188.2V189.6" stroke="#111" stroke-width="0.95" fill="none"/>
<text transform="translate(261.7,190.4) scale(0.88,1)" font-size="6.3" text-anchor="end" fill="#3a3a3a">0</text>
<text transform="translate(261.7,179.6) scale(0.88,1)" font-size="6.3" text-anchor="end" fill="#3a3a3a">0.5</text>
<text transform="translate(261.7,168.8) scale(0.88,1)" font-size="6.3" text-anchor="end" fill="#3a3a3a">1</text>
<text transform="translate(261.7,158) scale(0.88,1)" font-size="6.3" text-anchor="end" fill="#3a3a3a">1.5</text>
<text transform="translate(261.7,147.2) scale(0.88,1)" font-size="6.3" text-anchor="end" fill="#3a3a3a">2</text>
<text transform="translate(266.5,197.7) scale(0.86,1)" font-size="6.4" text-anchor="middle" fill="#3a3a3a">0</text>
<text transform="translate(279.34,197.7) scale(0.86,1)" font-size="6.4" text-anchor="middle" fill="#3a3a3a">5</text>
<text transform="translate(292.18,197.7) scale(0.86,1)" font-size="6.4" text-anchor="middle" fill="#3a3a3a">10</text>
<text transform="translate(305.02,197.7) scale(0.86,1)" font-size="6.4" text-anchor="middle" fill="#3a3a3a">15</text>
<text transform="translate(317.86,197.7) scale(0.86,1)" font-size="6.4" text-anchor="middle" fill="#3a3a3a">20</text>
<text transform="translate(330.7,197.7) scale(0.86,1)" font-size="6.4" text-anchor="middle" fill="#3a3a3a">25</text>
<path d="M347.1 177.3H410.5" stroke="#b0b0b0" stroke-width="0.7" stroke-dasharray="1,0.9" fill="none"/>
<path d="M347.1 182.6H410.5" stroke="#b8d4ee" stroke-width="0.7" stroke-dasharray="1,0.9" fill="none"/>
<path d="M346.5 182 L349.06 179.5 L351.62 181.5 L354.18 181.3 L356.74 177.2 L366.98 179.1 L377.22 181.3 L387.46 183.1 L407.94 184.2" stroke="#3a4660" stroke-width="0.9" fill="none" stroke-linejoin="round"/>
<path d="M346.5 180.8l1.2 1.2l-1.2 1.2l-1.2 -1.2z" fill="#2a3550"/><path d="M349.06 178.3l1.2 1.2l-1.2 1.2l-1.2 -1.2z" fill="#2a3550"/><path d="M351.62 180.3l1.2 1.2l-1.2 1.2l-1.2 -1.2z" fill="#2a3550"/><path d="M354.18 180.1l1.2 1.2l-1.2 1.2l-1.2 -1.2z" fill="#2a3550"/><path d="M356.74 176l1.2 1.2l-1.2 1.2l-1.2 -1.2z" fill="#2a3550"/><path d="M366.98 177.9l1.2 1.2l-1.2 1.2l-1.2 -1.2z" fill="#2a3550"/><path d="M377.22 180.1l1.2 1.2l-1.2 1.2l-1.2 -1.2z" fill="#2a3550"/><path d="M387.46 181.9l1.2 1.2l-1.2 1.2l-1.2 -1.2z" fill="#2a3550"/><path d="M407.94 183l1.2 1.2l-1.2 1.2l-1.2 -1.2z" fill="#2a3550"/>
<path d="M346.5 180.2 L349.06 179 L350.6 182.2 L354.18 176.8 L356.74 169.2 L366.98 174.1 L377.22 176.8 L387.46 178.8 L407.94 177.2" stroke="#2f5ea6" stroke-width="0.95" fill="none" stroke-linejoin="round"/>
<circle cx="346.5" cy="180.2" r="1.1" fill="#1f4a94"/><circle cx="349.06" cy="179" r="1.1" fill="#1f4a94"/><circle cx="350.6" cy="182.2" r="1.1" fill="#1f4a94"/><circle cx="354.18" cy="176.8" r="1.1" fill="#1f4a94"/><circle cx="356.74" cy="169.2" r="1.1" fill="#1f4a94"/><circle cx="366.98" cy="174.1" r="1.1" fill="#1f4a94"/><circle cx="377.22" cy="176.8" r="1.1" fill="#1f4a94"/><circle cx="387.46" cy="178.8" r="1.1" fill="#1f4a94"/><circle cx="407.94" cy="177.2" r="1.1" fill="#1f4a94"/>
<path d="M346.5 182.2 L350.6 183 L354.18 168.7 L356.74 175.1 L366.98 175.9 L377.22 176.8 L387.46 178.2 L407.94 180.9" stroke="#c8213f" stroke-width="0.95" fill="none" stroke-linejoin="round"/>
<circle cx="346.5" cy="182.2" r="0.75" fill="#b8102e"/><circle cx="350.6" cy="183" r="0.75" fill="#b8102e"/><circle cx="354.18" cy="168.7" r="0.75" fill="#b8102e"/><circle cx="356.74" cy="175.1" r="0.75" fill="#b8102e"/><circle cx="366.98" cy="175.9" r="0.75" fill="#b8102e"/><circle cx="377.22" cy="176.8" r="0.75" fill="#b8102e"/><circle cx="387.46" cy="178.2" r="0.75" fill="#b8102e"/><circle cx="407.94" cy="180.9" r="0.75" fill="#b8102e"/>
<path d="M346.5 142.1V188.7M343.9 188.2H413.3M343.7 188.2H346.5M343.7 177.4H346.5M343.7 166.6H346.5M343.7 155.8H346.5M343.7 145H346.5M345 182.8H346.5M345 172H346.5M345 161.2H346.5M345 150.4H346.5M346.5 188.2V190.8M359.3 188.2V190.8M372.1 188.2V190.8M384.9 188.2V190.8M397.7 188.2V190.8M410.5 188.2V190.8M352.9 188.2V189.6M365.7 188.2V189.6M378.5 188.2V189.6M391.3 188.2V189.6M404.1 188.2V189.6" stroke="#111" stroke-width="0.95" fill="none"/>
<text transform="translate(341.9,190.4) scale(0.88,1)" font-size="6.3" text-anchor="end" fill="#3a3a3a">0</text>
<text transform="translate(341.9,179.6) scale(0.88,1)" font-size="6.3" text-anchor="end" fill="#3a3a3a">0.5</text>
<text transform="translate(341.9,168.8) scale(0.88,1)" font-size="6.3" text-anchor="end" fill="#3a3a3a">1</text>
<text transform="translate(341.9,158) scale(0.88,1)" font-size="6.3" text-anchor="end" fill="#3a3a3a">1.5</text>
<text transform="translate(341.9,147.2) scale(0.88,1)" font-size="6.3" text-anchor="end" fill="#3a3a3a">2</text>
<text transform="translate(346.7,197.7) scale(0.86,1)" font-size="6.4" text-anchor="middle" fill="#3a3a3a">0</text>
<text transform="translate(359.5,197.7) scale(0.86,1)" font-size="6.4" text-anchor="middle" fill="#3a3a3a">5</text>
<text transform="translate(372.3,197.7) scale(0.86,1)" font-size="6.4" text-anchor="middle" fill="#3a3a3a">10</text>
<text transform="translate(385.1,197.7) scale(0.86,1)" font-size="6.4" text-anchor="middle" fill="#3a3a3a">15</text>
<text transform="translate(397.9,197.7) scale(0.86,1)" font-size="6.4" text-anchor="middle" fill="#3a3a3a">20</text>
<text transform="translate(410.7,197.7) scale(0.86,1)" font-size="6.4" text-anchor="middle" fill="#3a3a3a">25</text>
<path d="M427.1 177.3H491.1" stroke="#b0b0b0" stroke-width="0.7" stroke-dasharray="1,0.9" fill="none"/>
<path d="M427.1 182.6H491.1" stroke="#b8d4ee" stroke-width="0.7" stroke-dasharray="1,0.9" fill="none"/>
<path d="M426.5 167.1 L427.79 161.4 L430.38 161.1 L431.67 155.7 L434.25 157 L436.84 152.9 L447.17 155.5 L457.51 155.2 L467.84 165 L488.52 175.4" stroke="#c8213f" stroke-width="0.95" fill="none" stroke-linejoin="round"/>
<circle cx="426.5" cy="167.1" r="0.75" fill="#b8102e"/><circle cx="427.79" cy="161.4" r="0.75" fill="#b8102e"/><circle cx="430.38" cy="161.1" r="0.75" fill="#b8102e"/><circle cx="431.67" cy="155.7" r="0.75" fill="#b8102e"/><circle cx="434.25" cy="157" r="0.75" fill="#b8102e"/><circle cx="436.84" cy="152.9" r="0.75" fill="#b8102e"/><circle cx="447.17" cy="155.5" r="0.75" fill="#b8102e"/><circle cx="457.51" cy="155.2" r="0.75" fill="#b8102e"/><circle cx="467.84" cy="165" r="0.75" fill="#b8102e"/><circle cx="488.52" cy="175.4" r="0.75" fill="#b8102e"/>
<path d="M426.5 142.1V188.7M423.9 188.2H493.9M423.7 188.2H426.5M423.7 177.4H426.5M423.7 166.6H426.5M423.7 155.8H426.5M423.7 145H426.5M425 182.8H426.5M425 172H426.5M425 161.2H426.5M425 150.4H426.5M426.5 188.2V190.8M439.42 188.2V190.8M452.34 188.2V190.8M465.26 188.2V190.8M478.18 188.2V190.8M491.1 188.2V190.8M432.96 188.2V189.6M445.88 188.2V189.6M458.8 188.2V189.6M471.72 188.2V189.6M484.64 188.2V189.6" stroke="#111" stroke-width="0.95" fill="none"/>
<text transform="translate(421.9,190.4) scale(0.88,1)" font-size="6.3" text-anchor="end" fill="#3a3a3a">0</text>
<text transform="translate(421.9,179.6) scale(0.88,1)" font-size="6.3" text-anchor="end" fill="#3a3a3a">0.5</text>
<text transform="translate(421.9,168.8) scale(0.88,1)" font-size="6.3" text-anchor="end" fill="#3a3a3a">1</text>
<text transform="translate(421.9,158) scale(0.88,1)" font-size="6.3" text-anchor="end" fill="#3a3a3a">1.5</text>
<text transform="translate(421.9,147.2) scale(0.88,1)" font-size="6.3" text-anchor="end" fill="#3a3a3a">2</text>
<text transform="translate(426.7,197.7) scale(0.86,1)" font-size="6.4" text-anchor="middle" fill="#3a3a3a">0</text>
<text transform="translate(439.62,197.7) scale(0.86,1)" font-size="6.4" text-anchor="middle" fill="#3a3a3a">5</text>
<text transform="translate(452.54,197.7) scale(0.86,1)" font-size="6.4" text-anchor="middle" fill="#3a3a3a">10</text>
<text transform="translate(465.46,197.7) scale(0.86,1)" font-size="6.4" text-anchor="middle" fill="#3a3a3a">15</text>
<text transform="translate(478.38,197.7) scale(0.86,1)" font-size="6.4" text-anchor="middle" fill="#3a3a3a">20</text>
<text transform="translate(491.3,197.7) scale(0.86,1)" font-size="6.4" text-anchor="middle" fill="#3a3a3a">25</text>
<path d="M26.5 250 L28.87 246 L31.24 243 L35.99 242.6 L45.48 245.5 L54.96 250.4 L64.45 242.6 L83.43 249.7" stroke="#7a7ad0" stroke-width="0.85" fill="none" stroke-linejoin="round" stroke-dasharray="1.8,1"/>
<path d="M26.5 248.55l1.35 2.3h-2.7z" fill="#fff" stroke="#6a6ac8" stroke-width="0.55"/><path d="M28.87 244.55l1.35 2.3h-2.7z" fill="#fff" stroke="#6a6ac8" stroke-width="0.55"/><path d="M31.24 241.55l1.35 2.3h-2.7z" fill="#fff" stroke="#6a6ac8" stroke-width="0.55"/><path d="M35.99 241.15l1.35 2.3h-2.7z" fill="#fff" stroke="#6a6ac8" stroke-width="0.55"/><path d="M45.48 244.05l1.35 2.3h-2.7z" fill="#fff" stroke="#6a6ac8" stroke-width="0.55"/><path d="M54.96 248.95l1.35 2.3h-2.7z" fill="#fff" stroke="#6a6ac8" stroke-width="0.55"/><path d="M64.45 241.15l1.35 2.3h-2.7z" fill="#fff" stroke="#6a6ac8" stroke-width="0.55"/><path d="M83.43 248.25l1.35 2.3h-2.7z" fill="#fff" stroke="#6a6ac8" stroke-width="0.55"/>
<path d="M26.5 251 L31.24 248 L33.62 244.5 L35.99 248.3 L45.48 240.4 L54.96 248 L64.45 248.6 L83.43 251.4" stroke="#8c68ac" stroke-width="0.9" fill="none" stroke-linejoin="round"/>
<circle cx="26.5" cy="251" r="1.05" fill="#c9b4dc" stroke="#7a4e9c" stroke-width="0.8"/><circle cx="31.24" cy="248" r="1.05" fill="#c9b4dc" stroke="#7a4e9c" stroke-width="0.8"/><circle cx="33.62" cy="244.5" r="1.05" fill="#c9b4dc" stroke="#7a4e9c" stroke-width="0.8"/><circle cx="35.99" cy="248.3" r="1.05" fill="#c9b4dc" stroke="#7a4e9c" stroke-width="0.8"/><circle cx="45.48" cy="240.4" r="1.05" fill="#c9b4dc" stroke="#7a4e9c" stroke-width="0.8"/><circle cx="54.96" cy="248" r="1.05" fill="#c9b4dc" stroke="#7a4e9c" stroke-width="0.8"/><circle cx="64.45" cy="248.6" r="1.05" fill="#c9b4dc" stroke="#7a4e9c" stroke-width="0.8"/><circle cx="83.43" cy="251.4" r="1.05" fill="#c9b4dc" stroke="#7a4e9c" stroke-width="0.8"/>
<path d="M26.5 246.9 L28.87 238.3 L30.06 242 L31.24 235.4 L33.62 237.5 L35.99 239.7 L45.48 243.7 L54.96 238.6 L64.45 235.4 L83.43 240" stroke="#2f5ea6" stroke-width="0.95" fill="none" stroke-linejoin="round"/>
<circle cx="26.5" cy="246.9" r="1.1" fill="#1f4a94"/><circle cx="28.87" cy="238.3" r="1.1" fill="#1f4a94"/><circle cx="30.06" cy="242" r="1.1" fill="#1f4a94"/><circle cx="31.24" cy="235.4" r="1.1" fill="#1f4a94"/><circle cx="33.62" cy="237.5" r="1.1" fill="#1f4a94"/><circle cx="35.99" cy="239.7" r="1.1" fill="#1f4a94"/><circle cx="45.48" cy="243.7" r="1.1" fill="#1f4a94"/><circle cx="54.96" cy="238.6" r="1.1" fill="#1f4a94"/><circle cx="64.45" cy="235.4" r="1.1" fill="#1f4a94"/><circle cx="83.43" cy="240" r="1.1" fill="#1f4a94"/>
<path d="M26.5 241.9 L27.69 238.3 L28.87 240 L31.24 235.4 L33.62 237 L35.99 236.6 L45.48 238 L54.96 237.1 L64.45 235.4 L83.43 239" stroke="#c8213f" stroke-width="0.95" fill="none" stroke-linejoin="round"/>
<circle cx="26.5" cy="241.9" r="0.75" fill="#b8102e"/><circle cx="27.69" cy="238.3" r="0.75" fill="#b8102e"/><circle cx="28.87" cy="240" r="0.75" fill="#b8102e"/><circle cx="31.24" cy="235.4" r="0.75" fill="#b8102e"/><circle cx="33.62" cy="237" r="0.75" fill="#b8102e"/><circle cx="35.99" cy="236.6" r="0.75" fill="#b8102e"/><circle cx="45.48" cy="238" r="0.75" fill="#b8102e"/><circle cx="54.96" cy="237.1" r="0.75" fill="#b8102e"/><circle cx="64.45" cy="235.4" r="0.75" fill="#b8102e"/><circle cx="83.43" cy="239" r="0.75" fill="#b8102e"/>
<path d="M26.5 206.8V252.6M23.9 252.1H88.6M23.7 252.1H26.5M23.7 241.5H26.5M23.7 230.9H26.5M23.7 220.3H26.5M23.7 209.7H26.5M25 246.8H26.5M25 236.2H26.5M25 225.6H26.5M25 215H26.5M26.5 252.1V254.7M38.36 252.1V254.7M50.22 252.1V254.7M62.08 252.1V254.7M73.94 252.1V254.7M85.8 252.1V254.7M32.43 252.1V253.5M44.29 252.1V253.5M56.15 252.1V253.5M68.01 252.1V253.5M79.87 252.1V253.5" stroke="#111" stroke-width="0.95" fill="none"/>
<text transform="translate(21.9,254.3) scale(0.88,1)" font-size="6.3" text-anchor="end" fill="#3a3a3a">0</text>
<text transform="translate(21.9,243.7) scale(0.88,1)" font-size="6.3" text-anchor="end" fill="#3a3a3a">0.2</text>
<text transform="translate(21.9,233.1) scale(0.88,1)" font-size="6.3" text-anchor="end" fill="#3a3a3a">0.4</text>
<text transform="translate(21.9,222.5) scale(0.88,1)" font-size="6.3" text-anchor="end" fill="#3a3a3a">0.6</text>
<text transform="translate(21.9,211.9) scale(0.88,1)" font-size="6.3" text-anchor="end" fill="#3a3a3a">0.8</text>
<text transform="translate(26.7,261.6) scale(0.86,1)" font-size="6.4" text-anchor="middle" fill="#3a3a3a">0</text>
<text transform="translate(38.56,261.6) scale(0.86,1)" font-size="6.4" text-anchor="middle" fill="#3a3a3a">5</text>
<text transform="translate(50.42,261.6) scale(0.86,1)" font-size="6.4" text-anchor="middle" fill="#3a3a3a">10</text>
<text transform="translate(62.28,261.6) scale(0.86,1)" font-size="6.4" text-anchor="middle" fill="#3a3a3a">15</text>
<text transform="translate(74.14,261.6) scale(0.86,1)" font-size="6.4" text-anchor="middle" fill="#3a3a3a">20</text>
<text transform="translate(86,261.6) scale(0.86,1)" font-size="6.4" text-anchor="middle" fill="#3a3a3a">25</text>
<path d="M108.5 251 L113.12 249 L117.73 251 L126.96 251.5 L136.2 251 L145.43 248.5 L163.89 251.4" stroke="#7a7ad0" stroke-width="0.85" fill="none" stroke-linejoin="round" stroke-dasharray="1.8,1"/>
<path d="M108.5 249.55l1.35 2.3h-2.7z" fill="#fff" stroke="#6a6ac8" stroke-width="0.55"/><path d="M113.12 247.55l1.35 2.3h-2.7z" fill="#fff" stroke="#6a6ac8" stroke-width="0.55"/><path d="M117.73 249.55l1.35 2.3h-2.7z" fill="#fff" stroke="#6a6ac8" stroke-width="0.55"/><path d="M126.96 250.05l1.35 2.3h-2.7z" fill="#fff" stroke="#6a6ac8" stroke-width="0.55"/><path d="M136.2 249.55l1.35 2.3h-2.7z" fill="#fff" stroke="#6a6ac8" stroke-width="0.55"/><path d="M145.43 247.05l1.35 2.3h-2.7z" fill="#fff" stroke="#6a6ac8" stroke-width="0.55"/><path d="M163.89 249.95l1.35 2.3h-2.7z" fill="#fff" stroke="#6a6ac8" stroke-width="0.55"/>
<path d="M108.5 250.5 L113.12 245 L115.42 248 L117.73 248.5 L126.96 243 L136.2 251 L145.43 249.5 L163.89 251.4" stroke="#8c68ac" stroke-width="0.9" fill="none" stroke-linejoin="round"/>
<circle cx="108.5" cy="250.5" r="1.05" fill="#c9b4dc" stroke="#7a4e9c" stroke-width="0.8"/><circle cx="113.12" cy="245" r="1.05" fill="#c9b4dc" stroke="#7a4e9c" stroke-width="0.8"/><circle cx="115.42" cy="248" r="1.05" fill="#c9b4dc" stroke="#7a4e9c" stroke-width="0.8"/><circle cx="117.73" cy="248.5" r="1.05" fill="#c9b4dc" stroke="#7a4e9c" stroke-width="0.8"/><circle cx="126.96" cy="243" r="1.05" fill="#c9b4dc" stroke="#7a4e9c" stroke-width="0.8"/><circle cx="136.2" cy="251" r="1.05" fill="#c9b4dc" stroke="#7a4e9c" stroke-width="0.8"/><circle cx="145.43" cy="249.5" r="1.05" fill="#c9b4dc" stroke="#7a4e9c" stroke-width="0.8"/><circle cx="163.89" cy="251.4" r="1.05" fill="#c9b4dc" stroke="#7a4e9c" stroke-width="0.8"/>
<path d="M108.5 248.3 L110.81 247.5 L113.12 238.3 L115.42 241.5 L117.73 243.3 L126.96 242.6 L136.2 245.1 L145.43 246.1 L163.89 248" stroke="#2f5ea6" stroke-width="0.95" fill="none" stroke-linejoin="round"/>
<circle cx="108.5" cy="248.3" r="1.1" fill="#1f4a94"/><circle cx="110.81" cy="247.5" r="1.1" fill="#1f4a94"/><circle cx="113.12" cy="238.3" r="1.1" fill="#1f4a94"/><circle cx="115.42" cy="241.5" r="1.1" fill="#1f4a94"/><circle cx="117.73" cy="243.3" r="1.1" fill="#1f4a94"/><circle cx="126.96" cy="242.6" r="1.1" fill="#1f4a94"/><circle cx="136.2" cy="245.1" r="1.1" fill="#1f4a94"/><circle cx="145.43" cy="246.1" r="1.1" fill="#1f4a94"/><circle cx="163.89" cy="248" r="1.1" fill="#1f4a94"/>
<path d="M108.5 250.4 L110.81 248 L113.12 244.7 L115.42 247 L117.73 246.9 L126.96 241.1 L136.2 248.3 L145.43 240.4 L163.89 250.4" stroke="#c8213f" stroke-width="0.95" fill="none" stroke-linejoin="round"/>
<circle cx="108.5" cy="250.4" r="0.75" fill="#b8102e"/><circle cx="110.81" cy="248" r="0.75" fill="#b8102e"/><circle cx="113.12" cy="244.7" r="0.75" fill="#b8102e"/><circle cx="115.42" cy="247" r="0.75" fill="#b8102e"/><circle cx="117.73" cy="246.9" r="0.75" fill="#b8102e"/><circle cx="126.96" cy="241.1" r="0.75" fill="#b8102e"/><circle cx="136.2" cy="248.3" r="0.75" fill="#b8102e"/><circle cx="145.43" cy="240.4" r="0.75" fill="#b8102e"/><circle cx="163.89" cy="250.4" r="0.75" fill="#b8102e"/>
<path d="M108.5 206.3V252.1M105.9 251.6H169M105.7 251.6H108.5M105.7 241H108.5M105.7 230.4H108.5M105.7 219.8H108.5M105.7 209.2H108.5M107 246.3H108.5M107 235.7H108.5M107 225.1H108.5M107 214.5H108.5M108.5 251.6V254.2M120.04 251.6V254.2M131.58 251.6V254.2M143.12 251.6V254.2M154.66 251.6V254.2M166.2 251.6V254.2M114.27 251.6V253M125.81 251.6V253M137.35 251.6V253M148.89 251.6V253M160.43 251.6V253" stroke="#111" stroke-width="0.95" fill="none"/>
<text transform="translate(103.9,253.8) scale(0.88,1)" font-size="6.3" text-anchor="end" fill="#3a3a3a">0</text>
<text transform="translate(103.9,243.2) scale(0.88,1)" font-size="6.3" text-anchor="end" fill="#3a3a3a">0.2</text>
<text transform="translate(103.9,232.6) scale(0.88,1)" font-size="6.3" text-anchor="end" fill="#3a3a3a">0.4</text>
<text transform="translate(103.9,222) scale(0.88,1)" font-size="6.3" text-anchor="end" fill="#3a3a3a">0.6</text>
<text transform="translate(103.9,211.4) scale(0.88,1)" font-size="6.3" text-anchor="end" fill="#3a3a3a">0.8</text>
<text transform="translate(108.7,261.1) scale(0.86,1)" font-size="6.4" text-anchor="middle" fill="#3a3a3a">0</text>
<text transform="translate(120.24,261.1) scale(0.86,1)" font-size="6.4" text-anchor="middle" fill="#3a3a3a">5</text>
<text transform="translate(131.78,261.1) scale(0.86,1)" font-size="6.4" text-anchor="middle" fill="#3a3a3a">10</text>
<text transform="translate(143.32,261.1) scale(0.86,1)" font-size="6.4" text-anchor="middle" fill="#3a3a3a">15</text>
<text transform="translate(154.86,261.1) scale(0.86,1)" font-size="6.4" text-anchor="middle" fill="#3a3a3a">20</text>
<text transform="translate(166.4,261.1) scale(0.86,1)" font-size="6.4" text-anchor="middle" fill="#3a3a3a">25</text>
<path d="M186.5 244 L188.89 234 L191.28 243 L193.66 238 L196.05 227.3 L205.6 239.7 L215.16 241.1 L224.71 243.3 L243.81 244" stroke="#7a7ad0" stroke-width="0.85" fill="none" stroke-linejoin="round" stroke-dasharray="1.8,1"/>
<path d="M186.5 242.55l1.35 2.3h-2.7z" fill="#fff" stroke="#6a6ac8" stroke-width="0.55"/><path d="M188.89 232.55l1.35 2.3h-2.7z" fill="#fff" stroke="#6a6ac8" stroke-width="0.55"/><path d="M191.28 241.55l1.35 2.3h-2.7z" fill="#fff" stroke="#6a6ac8" stroke-width="0.55"/><path d="M193.66 236.55l1.35 2.3h-2.7z" fill="#fff" stroke="#6a6ac8" stroke-width="0.55"/><path d="M196.05 225.85l1.35 2.3h-2.7z" fill="#fff" stroke="#6a6ac8" stroke-width="0.55"/><path d="M205.6 238.25l1.35 2.3h-2.7z" fill="#fff" stroke="#6a6ac8" stroke-width="0.55"/><path d="M215.16 239.65l1.35 2.3h-2.7z" fill="#fff" stroke="#6a6ac8" stroke-width="0.55"/><path d="M224.71 241.85l1.35 2.3h-2.7z" fill="#fff" stroke="#6a6ac8" stroke-width="0.55"/><path d="M243.81 242.55l1.35 2.3h-2.7z" fill="#fff" stroke="#6a6ac8" stroke-width="0.55"/>
<path d="M186.5 244.9 L187.69 238 L188.89 233.4 L190.08 234 L191.28 244.9 L193.66 232.2 L196.05 229.7 L205.6 238.2 L215.16 244.7 L224.71 245.1 L243.81 248.6" stroke="#3a4660" stroke-width="0.9" fill="none" stroke-linejoin="round"/>
<path d="M186.5 243.7l1.2 1.2l-1.2 1.2l-1.2 -1.2z" fill="#2a3550"/><path d="M187.69 236.8l1.2 1.2l-1.2 1.2l-1.2 -1.2z" fill="#2a3550"/><path d="M188.89 232.2l1.2 1.2l-1.2 1.2l-1.2 -1.2z" fill="#2a3550"/><path d="M190.08 232.8l1.2 1.2l-1.2 1.2l-1.2 -1.2z" fill="#2a3550"/><path d="M191.28 243.7l1.2 1.2l-1.2 1.2l-1.2 -1.2z" fill="#2a3550"/><path d="M193.66 231l1.2 1.2l-1.2 1.2l-1.2 -1.2z" fill="#2a3550"/><path d="M196.05 228.5l1.2 1.2l-1.2 1.2l-1.2 -1.2z" fill="#2a3550"/><path d="M205.6 237l1.2 1.2l-1.2 1.2l-1.2 -1.2z" fill="#2a3550"/><path d="M215.16 243.5l1.2 1.2l-1.2 1.2l-1.2 -1.2z" fill="#2a3550"/><path d="M224.71 243.9l1.2 1.2l-1.2 1.2l-1.2 -1.2z" fill="#2a3550"/><path d="M243.81 247.4l1.2 1.2l-1.2 1.2l-1.2 -1.2z" fill="#2a3550"/>
<path d="M186.5 245.5 L187.69 251 L188.89 245 L190.08 250 L191.28 249.2 L193.66 248 L196.05 248.9 L215.16 229.4 L224.71 243.7 L243.81 246.1" stroke="#c8213f" stroke-width="0.95" fill="none" stroke-linejoin="round"/>
<circle cx="186.5" cy="245.5" r="0.75" fill="#b8102e"/><circle cx="187.69" cy="251" r="0.75" fill="#b8102e"/><circle cx="188.89" cy="245" r="0.75" fill="#b8102e"/><circle cx="190.08" cy="250" r="0.75" fill="#b8102e"/><circle cx="191.28" cy="249.2" r="0.75" fill="#b8102e"/><circle cx="193.66" cy="248" r="0.75" fill="#b8102e"/><circle cx="196.05" cy="248.9" r="0.75" fill="#b8102e"/><circle cx="215.16" cy="229.4" r="0.75" fill="#b8102e"/><circle cx="224.71" cy="243.7" r="0.75" fill="#b8102e"/><circle cx="243.81" cy="246.1" r="0.75" fill="#b8102e"/>
<path d="M186.5 206.4V252.2M183.9 251.7H249M183.7 251.7H186.5M183.7 241.1H186.5M183.7 230.5H186.5M183.7 219.9H186.5M183.7 209.3H186.5M185 246.4H186.5M185 235.8H186.5M185 225.2H186.5M185 214.6H186.5M186.5 251.7V254.3M198.44 251.7V254.3M210.38 251.7V254.3M222.32 251.7V254.3M234.26 251.7V254.3M246.2 251.7V254.3M192.47 251.7V253.1M204.41 251.7V253.1M216.35 251.7V253.1M228.29 251.7V253.1M240.23 251.7V253.1" stroke="#111" stroke-width="0.95" fill="none"/>
<text transform="translate(181.9,253.9) scale(0.88,1)" font-size="6.3" text-anchor="end" fill="#3a3a3a">0</text>
<text transform="translate(181.9,243.3) scale(0.88,1)" font-size="6.3" text-anchor="end" fill="#3a3a3a">0.2</text>
<text transform="translate(181.9,232.7) scale(0.88,1)" font-size="6.3" text-anchor="end" fill="#3a3a3a">0.4</text>
<text transform="translate(181.9,222.1) scale(0.88,1)" font-size="6.3" text-anchor="end" fill="#3a3a3a">0.6</text>
<text transform="translate(181.9,211.5) scale(0.88,1)" font-size="6.3" text-anchor="end" fill="#3a3a3a">0.8</text>
<text transform="translate(186.7,261.2) scale(0.86,1)" font-size="6.4" text-anchor="middle" fill="#3a3a3a">0</text>
<text transform="translate(198.64,261.2) scale(0.86,1)" font-size="6.4" text-anchor="middle" fill="#3a3a3a">5</text>
<text transform="translate(210.58,261.2) scale(0.86,1)" font-size="6.4" text-anchor="middle" fill="#3a3a3a">10</text>
<text transform="translate(222.52,261.2) scale(0.86,1)" font-size="6.4" text-anchor="middle" fill="#3a3a3a">15</text>
<text transform="translate(234.46,261.2) scale(0.86,1)" font-size="6.4" text-anchor="middle" fill="#3a3a3a">20</text>
<text transform="translate(246.4,261.2) scale(0.86,1)" font-size="6.4" text-anchor="middle" fill="#3a3a3a">25</text>
<path d="M266.1 245 L268.3 240 L270 235 L271.2 238 L273.4 244.6 L276 241.2 L285.4 243.4 L294.5 245.8 L303.8 242 L323.2 246.3" stroke="#7a7ad0" stroke-width="0.85" fill="none" stroke-linejoin="round" stroke-dasharray="1.8,1"/>
<path d="M266.1 243.55l1.35 2.3h-2.7z" fill="#fff" stroke="#6a6ac8" stroke-width="0.55"/><path d="M268.3 238.55l1.35 2.3h-2.7z" fill="#fff" stroke="#6a6ac8" stroke-width="0.55"/><path d="M270 233.55l1.35 2.3h-2.7z" fill="#fff" stroke="#6a6ac8" stroke-width="0.55"/><path d="M271.2 236.55l1.35 2.3h-2.7z" fill="#fff" stroke="#6a6ac8" stroke-width="0.55"/><path d="M273.4 243.15l1.35 2.3h-2.7z" fill="#fff" stroke="#6a6ac8" stroke-width="0.55"/><path d="M276 239.75l1.35 2.3h-2.7z" fill="#fff" stroke="#6a6ac8" stroke-width="0.55"/><path d="M285.4 241.95l1.35 2.3h-2.7z" fill="#fff" stroke="#6a6ac8" stroke-width="0.55"/><path d="M294.5 244.35l1.35 2.3h-2.7z" fill="#fff" stroke="#6a6ac8" stroke-width="0.55"/><path d="M303.8 240.55l1.35 2.3h-2.7z" fill="#fff" stroke="#6a6ac8" stroke-width="0.55"/><path d="M323.2 244.85l1.35 2.3h-2.7z" fill="#fff" stroke="#6a6ac8" stroke-width="0.55"/>
<path d="M266.1 245.5 L268.5 243 L270 248 L271.2 232.6 L273.4 230.9 L285.4 241.2 L294.5 236 L303.8 242.4 L323.2 242.9" stroke="#3a4660" stroke-width="0.9" fill="none" stroke-linejoin="round"/>
<path d="M266.1 244.3l1.2 1.2l-1.2 1.2l-1.2 -1.2z" fill="#2a3550"/><path d="M268.5 241.8l1.2 1.2l-1.2 1.2l-1.2 -1.2z" fill="#2a3550"/><path d="M270 246.8l1.2 1.2l-1.2 1.2l-1.2 -1.2z" fill="#2a3550"/><path d="M271.2 231.4l1.2 1.2l-1.2 1.2l-1.2 -1.2z" fill="#2a3550"/><path d="M273.4 229.7l1.2 1.2l-1.2 1.2l-1.2 -1.2z" fill="#2a3550"/><path d="M285.4 240l1.2 1.2l-1.2 1.2l-1.2 -1.2z" fill="#2a3550"/><path d="M294.5 234.8l1.2 1.2l-1.2 1.2l-1.2 -1.2z" fill="#2a3550"/><path d="M303.8 241.2l1.2 1.2l-1.2 1.2l-1.2 -1.2z" fill="#2a3550"/><path d="M323.2 241.7l1.2 1.2l-1.2 1.2l-1.2 -1.2z" fill="#2a3550"/>
<path d="M266.1 236 L267.4 215.4 L268.3 230.9 L269.1 216.3 L270.9 230 L273.4 211.1 L275.7 229.2 L285.4 223.2 L294 223.2 L304.3 230 L323.2 236.5" stroke="#c8213f" stroke-width="0.95" fill="none" stroke-linejoin="round"/>
<circle cx="266.1" cy="236" r="0.75" fill="#b8102e"/><circle cx="267.4" cy="215.4" r="0.75" fill="#b8102e"/><circle cx="268.3" cy="230.9" r="0.75" fill="#b8102e"/><circle cx="269.1" cy="216.3" r="0.75" fill="#b8102e"/><circle cx="270.9" cy="230" r="0.75" fill="#b8102e"/><circle cx="273.4" cy="211.1" r="0.75" fill="#b8102e"/><circle cx="275.7" cy="229.2" r="0.75" fill="#b8102e"/><circle cx="285.4" cy="223.2" r="0.75" fill="#b8102e"/><circle cx="294" cy="223.2" r="0.75" fill="#b8102e"/><circle cx="304.3" cy="230" r="0.75" fill="#b8102e"/><circle cx="323.2" cy="236.5" r="0.75" fill="#b8102e"/>
<path d="M266.5 206.2V252M263.9 251.5H328.2M263.7 251.5H266.5M263.7 240.9H266.5M263.7 230.3H266.5M263.7 219.7H266.5M263.7 209.1H266.5M265 246.2H266.5M265 235.6H266.5M265 225H266.5M265 214.4H266.5M266.5 251.5V254.1M278.28 251.5V254.1M290.06 251.5V254.1M301.84 251.5V254.1M313.62 251.5V254.1M325.4 251.5V254.1M272.39 251.5V252.9M284.17 251.5V252.9M295.95 251.5V252.9M307.73 251.5V252.9M319.51 251.5V252.9" stroke="#111" stroke-width="0.95" fill="none"/>
<text transform="translate(261.9,253.7) scale(0.88,1)" font-size="6.3" text-anchor="end" fill="#3a3a3a">0</text>
<text transform="translate(261.9,243.1) scale(0.88,1)" font-size="6.3" text-anchor="end" fill="#3a3a3a">0.2</text>
<text transform="translate(261.9,232.5) scale(0.88,1)" font-size="6.3" text-anchor="end" fill="#3a3a3a">0.4</text>
<text transform="translate(261.9,221.9) scale(0.88,1)" font-size="6.3" text-anchor="end" fill="#3a3a3a">0.6</text>
<text transform="translate(261.9,211.3) scale(0.88,1)" font-size="6.3" text-anchor="end" fill="#3a3a3a">0.8</text>
<text transform="translate(266.7,261) scale(0.86,1)" font-size="6.4" text-anchor="middle" fill="#3a3a3a">0</text>
<text transform="translate(278.48,261) scale(0.86,1)" font-size="6.4" text-anchor="middle" fill="#3a3a3a">5</text>
<text transform="translate(290.26,261) scale(0.86,1)" font-size="6.4" text-anchor="middle" fill="#3a3a3a">10</text>
<text transform="translate(302.04,261) scale(0.86,1)" font-size="6.4" text-anchor="middle" fill="#3a3a3a">15</text>
<text transform="translate(313.82,261) scale(0.86,1)" font-size="6.4" text-anchor="middle" fill="#3a3a3a">20</text>
<text transform="translate(325.6,261) scale(0.86,1)" font-size="6.4" text-anchor="middle" fill="#3a3a3a">25</text>
<path d="M351 244 L352.4 238 L354.6 229.7 L357.4 238.3 L360.3 227.6 L369.6 238.3 L379.1 236.6 L388.9 244.7 L408.1 239.7" stroke="#3a4660" stroke-width="0.9" fill="none" stroke-linejoin="round"/>
<path d="M351 242.8l1.2 1.2l-1.2 1.2l-1.2 -1.2z" fill="#2a3550"/><path d="M352.4 236.8l1.2 1.2l-1.2 1.2l-1.2 -1.2z" fill="#2a3550"/><path d="M354.6 228.5l1.2 1.2l-1.2 1.2l-1.2 -1.2z" fill="#2a3550"/><path d="M357.4 237.1l1.2 1.2l-1.2 1.2l-1.2 -1.2z" fill="#2a3550"/><path d="M360.3 226.4l1.2 1.2l-1.2 1.2l-1.2 -1.2z" fill="#2a3550"/><path d="M369.6 237.1l1.2 1.2l-1.2 1.2l-1.2 -1.2z" fill="#2a3550"/><path d="M379.1 235.4l1.2 1.2l-1.2 1.2l-1.2 -1.2z" fill="#2a3550"/><path d="M388.9 243.5l1.2 1.2l-1.2 1.2l-1.2 -1.2z" fill="#2a3550"/><path d="M408.1 238.5l1.2 1.2l-1.2 1.2l-1.2 -1.2z" fill="#2a3550"/>
<path d="M351 240.4 L352.4 235.4 L354.6 230.4 L357.4 224.3 L360.3 219.4 L369.6 230 L379.1 234.7 L388.9 234.3 L408.1 237.6" stroke="#2f5ea6" stroke-width="0.95" fill="none" stroke-linejoin="round"/>
<circle cx="351" cy="240.4" r="1.1" fill="#1f4a94"/><circle cx="352.4" cy="235.4" r="1.1" fill="#1f4a94"/><circle cx="354.6" cy="230.4" r="1.1" fill="#1f4a94"/><circle cx="357.4" cy="224.3" r="1.1" fill="#1f4a94"/><circle cx="360.3" cy="219.4" r="1.1" fill="#1f4a94"/><circle cx="369.6" cy="230" r="1.1" fill="#1f4a94"/><circle cx="379.1" cy="234.7" r="1.1" fill="#1f4a94"/><circle cx="388.9" cy="234.3" r="1.1" fill="#1f4a94"/><circle cx="408.1" cy="237.6" r="1.1" fill="#1f4a94"/>
<path d="M351 244.7 L352.4 240.4 L353.9 244 L355.3 234.7 L360.3 228.6 L369.6 238.6 L408.1 244.7" stroke="#c8213f" stroke-width="0.95" fill="none" stroke-linejoin="round"/>
<circle cx="351" cy="244.7" r="0.75" fill="#b8102e"/><circle cx="352.4" cy="240.4" r="0.75" fill="#b8102e"/><circle cx="353.9" cy="244" r="0.75" fill="#b8102e"/><circle cx="355.3" cy="234.7" r="0.75" fill="#b8102e"/><circle cx="360.3" cy="228.6" r="0.75" fill="#b8102e"/><circle cx="369.6" cy="238.6" r="0.75" fill="#b8102e"/><circle cx="408.1" cy="244.7" r="0.75" fill="#b8102e"/>
<path d="M350.5 205.4V251.1M347.9 250.6H413.3M347.7 250.6H350.5M347.7 240.03H350.5M347.7 229.45H350.5M347.7 218.88H350.5M347.7 208.3H350.5M349 245.31H350.5M349 234.74H350.5M349 224.16H350.5M349 213.59H350.5M350.5 250.6V253.2M362.5 250.6V253.2M374.5 250.6V253.2M386.5 250.6V253.2M398.5 250.6V253.2M410.5 250.6V253.2M356.5 250.6V252M368.5 250.6V252M380.5 250.6V252M392.5 250.6V252M404.5 250.6V252" stroke="#111" stroke-width="0.95" fill="none"/>
<text transform="translate(345.9,252.8) scale(0.88,1)" font-size="6.3" text-anchor="end" fill="#3a3a3a">0</text>
<text transform="translate(345.9,242.22) scale(0.88,1)" font-size="6.3" text-anchor="end" fill="#3a3a3a">0.2</text>
<text transform="translate(345.9,231.65) scale(0.88,1)" font-size="6.3" text-anchor="end" fill="#3a3a3a">0.4</text>
<text transform="translate(345.9,221.07) scale(0.88,1)" font-size="6.3" text-anchor="end" fill="#3a3a3a">0.6</text>
<text transform="translate(345.9,210.5) scale(0.88,1)" font-size="6.3" text-anchor="end" fill="#3a3a3a">0.8</text>
<text transform="translate(350.7,260.1) scale(0.86,1)" font-size="6.4" text-anchor="middle" fill="#3a3a3a">0</text>
<text transform="translate(362.7,260.1) scale(0.86,1)" font-size="6.4" text-anchor="middle" fill="#3a3a3a">5</text>
<text transform="translate(374.7,260.1) scale(0.86,1)" font-size="6.4" text-anchor="middle" fill="#3a3a3a">10</text>
<text transform="translate(386.7,260.1) scale(0.86,1)" font-size="6.4" text-anchor="middle" fill="#3a3a3a">15</text>
<text transform="translate(398.7,260.1) scale(0.86,1)" font-size="6.4" text-anchor="middle" fill="#3a3a3a">20</text>
<text transform="translate(410.7,260.1) scale(0.86,1)" font-size="6.4" text-anchor="middle" fill="#3a3a3a">25</text>
<path d="M426.1 236.9 L427.4 232.6 L429.1 231.7 L431.7 225.7 L434 228.3 L436.3 217.1 L446 224.2 L455.7 231.4 L465.2 233.4 L484.9 235.2" stroke="#c8213f" stroke-width="0.95" fill="none" stroke-linejoin="round"/>
<circle cx="426.1" cy="236.9" r="0.75" fill="#b8102e"/><circle cx="427.4" cy="232.6" r="0.75" fill="#b8102e"/><circle cx="429.1" cy="231.7" r="0.75" fill="#b8102e"/><circle cx="431.7" cy="225.7" r="0.75" fill="#b8102e"/><circle cx="434" cy="228.3" r="0.75" fill="#b8102e"/><circle cx="436.3" cy="217.1" r="0.75" fill="#b8102e"/><circle cx="446" cy="224.2" r="0.75" fill="#b8102e"/><circle cx="455.7" cy="231.4" r="0.75" fill="#b8102e"/><circle cx="465.2" cy="233.4" r="0.75" fill="#b8102e"/><circle cx="484.9" cy="235.2" r="0.75" fill="#b8102e"/>
<path d="M427.3 205.5V251.3M424.7 250.8H489.6M424.5 250.8H427.3M424.5 240.2H427.3M424.5 229.6H427.3M424.5 219H427.3M424.5 208.4H427.3M425.8 245.5H427.3M425.8 234.9H427.3M425.8 224.3H427.3M425.8 213.7H427.3M427.3 250.8V253.4M439.2 250.8V253.4M451.1 250.8V253.4M463 250.8V253.4M474.9 250.8V253.4M486.8 250.8V253.4M433.25 250.8V252.2M445.15 250.8V252.2M457.05 250.8V252.2M468.95 250.8V252.2M480.85 250.8V252.2" stroke="#111" stroke-width="0.95" fill="none"/>
<text transform="translate(422.7,253) scale(0.88,1)" font-size="6.3" text-anchor="end" fill="#3a3a3a">0</text>
<text transform="translate(422.7,242.4) scale(0.88,1)" font-size="6.3" text-anchor="end" fill="#3a3a3a">0.2</text>
<text transform="translate(422.7,231.8) scale(0.88,1)" font-size="6.3" text-anchor="end" fill="#3a3a3a">0.4</text>
<text transform="translate(422.7,221.2) scale(0.88,1)" font-size="6.3" text-anchor="end" fill="#3a3a3a">0.6</text>
<text transform="translate(422.7,210.6) scale(0.88,1)" font-size="6.3" text-anchor="end" fill="#3a3a3a">0.8</text>
<text transform="translate(427.5,260.3) scale(0.86,1)" font-size="6.4" text-anchor="middle" fill="#3a3a3a">0</text>
<text transform="translate(439.4,260.3) scale(0.86,1)" font-size="6.4" text-anchor="middle" fill="#3a3a3a">5</text>
<text transform="translate(451.3,260.3) scale(0.86,1)" font-size="6.4" text-anchor="middle" fill="#3a3a3a">10</text>
<text transform="translate(463.2,260.3) scale(0.86,1)" font-size="6.4" text-anchor="middle" fill="#3a3a3a">15</text>
<text transform="translate(475.1,260.3) scale(0.86,1)" font-size="6.4" text-anchor="middle" fill="#3a3a3a">20</text>
<text transform="translate(487,260.3) scale(0.86,1)" font-size="6.4" text-anchor="middle" fill="#3a3a3a">25</text>
<text transform="translate(58.85,9.8) scale(0.8,1)" font-size="8.4" text-anchor="middle" fill="#2a2a2a" stroke="#2a2a2a" stroke-width="0.12">P1</text>
<text transform="translate(139.7,9.8) scale(0.8,1)" font-size="8.4" text-anchor="middle" fill="#2a2a2a" stroke="#2a2a2a" stroke-width="0.12">P2</text>
<text transform="translate(220.5,9.8) scale(0.8,1)" font-size="8.4" text-anchor="middle" fill="#2a2a2a" stroke="#2a2a2a" stroke-width="0.12">P3</text>
<text transform="translate(301.85,9.8) scale(0.8,1)" font-size="8.4" text-anchor="middle" fill="#2a2a2a" stroke="#2a2a2a" stroke-width="0.12">P4</text>
<text transform="translate(381.8,9.8) scale(0.8,1)" font-size="8.4" text-anchor="middle" fill="#2a2a2a" stroke="#2a2a2a" stroke-width="0.12">P6</text>
<text transform="translate(463.45,9.8) scale(0.8,1)" font-size="8.4" text-anchor="middle" fill="#2a2a2a" stroke="#2a2a2a" stroke-width="0.12">P7</text>
<text transform="translate(15.5,63.9) rotate(-90)" font-size="8.6" fill="#2a2a2a" stroke="#2a2a2a" stroke-width="0.22" textLength="24.5" lengthAdjust="spacingAndGlyphs">WBC (x10</text>
<text transform="translate(12.3,39.2) rotate(-90)" font-size="5.4" fill="#2a2a2a" stroke="#2a2a2a" stroke-width="0.22" textLength="2" lengthAdjust="spacingAndGlyphs">3</text>
<text transform="translate(15.5,37) rotate(-90)" font-size="8.6" fill="#2a2a2a" stroke="#2a2a2a" stroke-width="0.22" textLength="25" lengthAdjust="spacingAndGlyphs">cells/µL)</text>
<text transform="translate(15.5,124) rotate(-90)" font-size="8.6" fill="#2a2a2a" stroke="#2a2a2a" stroke-width="0.22" textLength="20.4" lengthAdjust="spacingAndGlyphs">ALC (x10</text>
<text transform="translate(12.3,103.4) rotate(-90)" font-size="5.4" fill="#2a2a2a" stroke="#2a2a2a" stroke-width="0.22" textLength="2" lengthAdjust="spacingAndGlyphs">3</text>
<text transform="translate(15.5,101.2) rotate(-90)" font-size="8.6" fill="#2a2a2a" stroke="#2a2a2a" stroke-width="0.22" textLength="24.9" lengthAdjust="spacingAndGlyphs">cells/µL)</text>
<text transform="translate(12.6,188.8) rotate(-90)" font-size="8.6" fill="#2a2a2a" stroke="#2a2a2a" stroke-width="0.22" textLength="21.6" lengthAdjust="spacingAndGlyphs">ANC (x10</text>
<text transform="translate(9.4,167) rotate(-90)" font-size="5.4" fill="#2a2a2a" stroke="#2a2a2a" stroke-width="0.22" textLength="2" lengthAdjust="spacingAndGlyphs">3</text>
<text transform="translate(11.8,164.6) rotate(-90)" font-size="7.2" fill="#2a2a2a" stroke="#2a2a2a" stroke-width="0.22" textLength="22.2" lengthAdjust="spacingAndGlyphs">(cells/µL)</text>
<text transform="translate(12.6,253.8) rotate(-90)" font-size="8.6" fill="#2a2a2a" stroke="#2a2a2a" stroke-width="0.22" textLength="24" lengthAdjust="spacingAndGlyphs">AMC (x10</text>
<text transform="translate(9.4,229.6) rotate(-90)" font-size="5.4" fill="#2a2a2a" stroke="#2a2a2a" stroke-width="0.22" textLength="2" lengthAdjust="spacingAndGlyphs">3</text>
<text transform="translate(12.6,227.3) rotate(-90)" font-size="8.6" fill="#2a2a2a" stroke="#2a2a2a" stroke-width="0.22" textLength="23.3" lengthAdjust="spacingAndGlyphs">cells/µL)</text>
<text transform="translate(491.5,10.4) scale(0.88,1)" font-size="5.9" text-anchor="start" fill="#333">Dose level</text>
<path d="M491 14.3H498.4" stroke="#c4c4c8" stroke-width="0.85"/>
<g transform="translate(494.7,14.3) scale(1.55) translate(-494.7,-14.3)"><circle cx="494.7" cy="14.3" r="0.9" fill="#fff" stroke="#b8b8bc" stroke-width="0.6"/></g>
<text transform="translate(501,16.2) scale(0.82,1)" font-size="5.5" text-anchor="start" fill="#3a3a3a">50 mg</text>
<path d="M491 19.7H498.4" stroke="#7a7ad0" stroke-width="0.85" stroke-dasharray="1.8,1"/>
<g transform="translate(494.7,19.7) scale(1.55) translate(-494.7,-19.7)"><path d="M494.7 18.25l1.35 2.3h-2.7z" fill="#fff" stroke="#6a6ac8" stroke-width="0.55"/></g>
<text transform="translate(501,21.6) scale(0.82,1)" font-size="5.5" text-anchor="start" fill="#3a3a3a">100 mg</text>
<path d="M491 25.1H498.4" stroke="#8c68ac" stroke-width="0.9"/>
<g transform="translate(494.7,25.1) scale(1.55) translate(-494.7,-25.1)"><circle cx="494.7" cy="25.1" r="1.05" fill="#fff" stroke="#7a4e9c" stroke-width="0.8"/></g>
<text transform="translate(501,27) scale(0.82,1)" font-size="5.5" text-anchor="start" fill="#3a3a3a">150 mg</text>
<path d="M491 30.5H498.4" stroke="#3a4660" stroke-width="0.9"/>
<g transform="translate(494.7,30.5) scale(1.55) translate(-494.7,-30.5)"><path d="M494.7 29.3l1.2 1.2l-1.2 1.2l-1.2 -1.2z" fill="#2a3550"/></g>
<text transform="translate(501,32.4) scale(0.82,1)" font-size="5.5" text-anchor="start" fill="#3a3a3a">200 mg</text>
<path d="M491 35.9H498.4" stroke="#2f5ea6" stroke-width="0.95"/>
<g transform="translate(494.7,35.9) scale(1.55) translate(-494.7,-35.9)"><circle cx="494.7" cy="35.9" r="1.1" fill="#1f4a94"/></g>
<text transform="translate(501,37.8) scale(0.82,1)" font-size="5.5" text-anchor="start" fill="#3a3a3a">300 mg</text>
<path d="M491 41.3H498.4" stroke="#c8213f" stroke-width="0.95"/>
<g transform="translate(494.7,41.3) scale(1.55) translate(-494.7,-41.3)"><circle cx="494.7" cy="41.3" r="0.75" fill="#b8102e"/></g>
<text transform="translate(501,43.2) scale(0.82,1)" font-size="5.5" text-anchor="start" fill="#3a3a3a">400 mg</text>
<path d="M25 271.9H39.6M76 271.9H86.5" stroke="#5a5a5a" stroke-width="1.8" fill="none"/>
<path d="M85.2 269.2L90.7 271.9L85.2 274.6z" fill="#111"/>
<text transform="translate(41.3,274.4) scale(0.72,1)" font-size="8.2" text-anchor="start" fill="#3a3a3a">Time (hours)</text>
<path d="M0 0H520V1.15H0zM0 0H1.1V280H0zM518.9 0H520V280H518.9zM0 278.7H520V280H0z" fill="#000"/></svg>
</body></html>
